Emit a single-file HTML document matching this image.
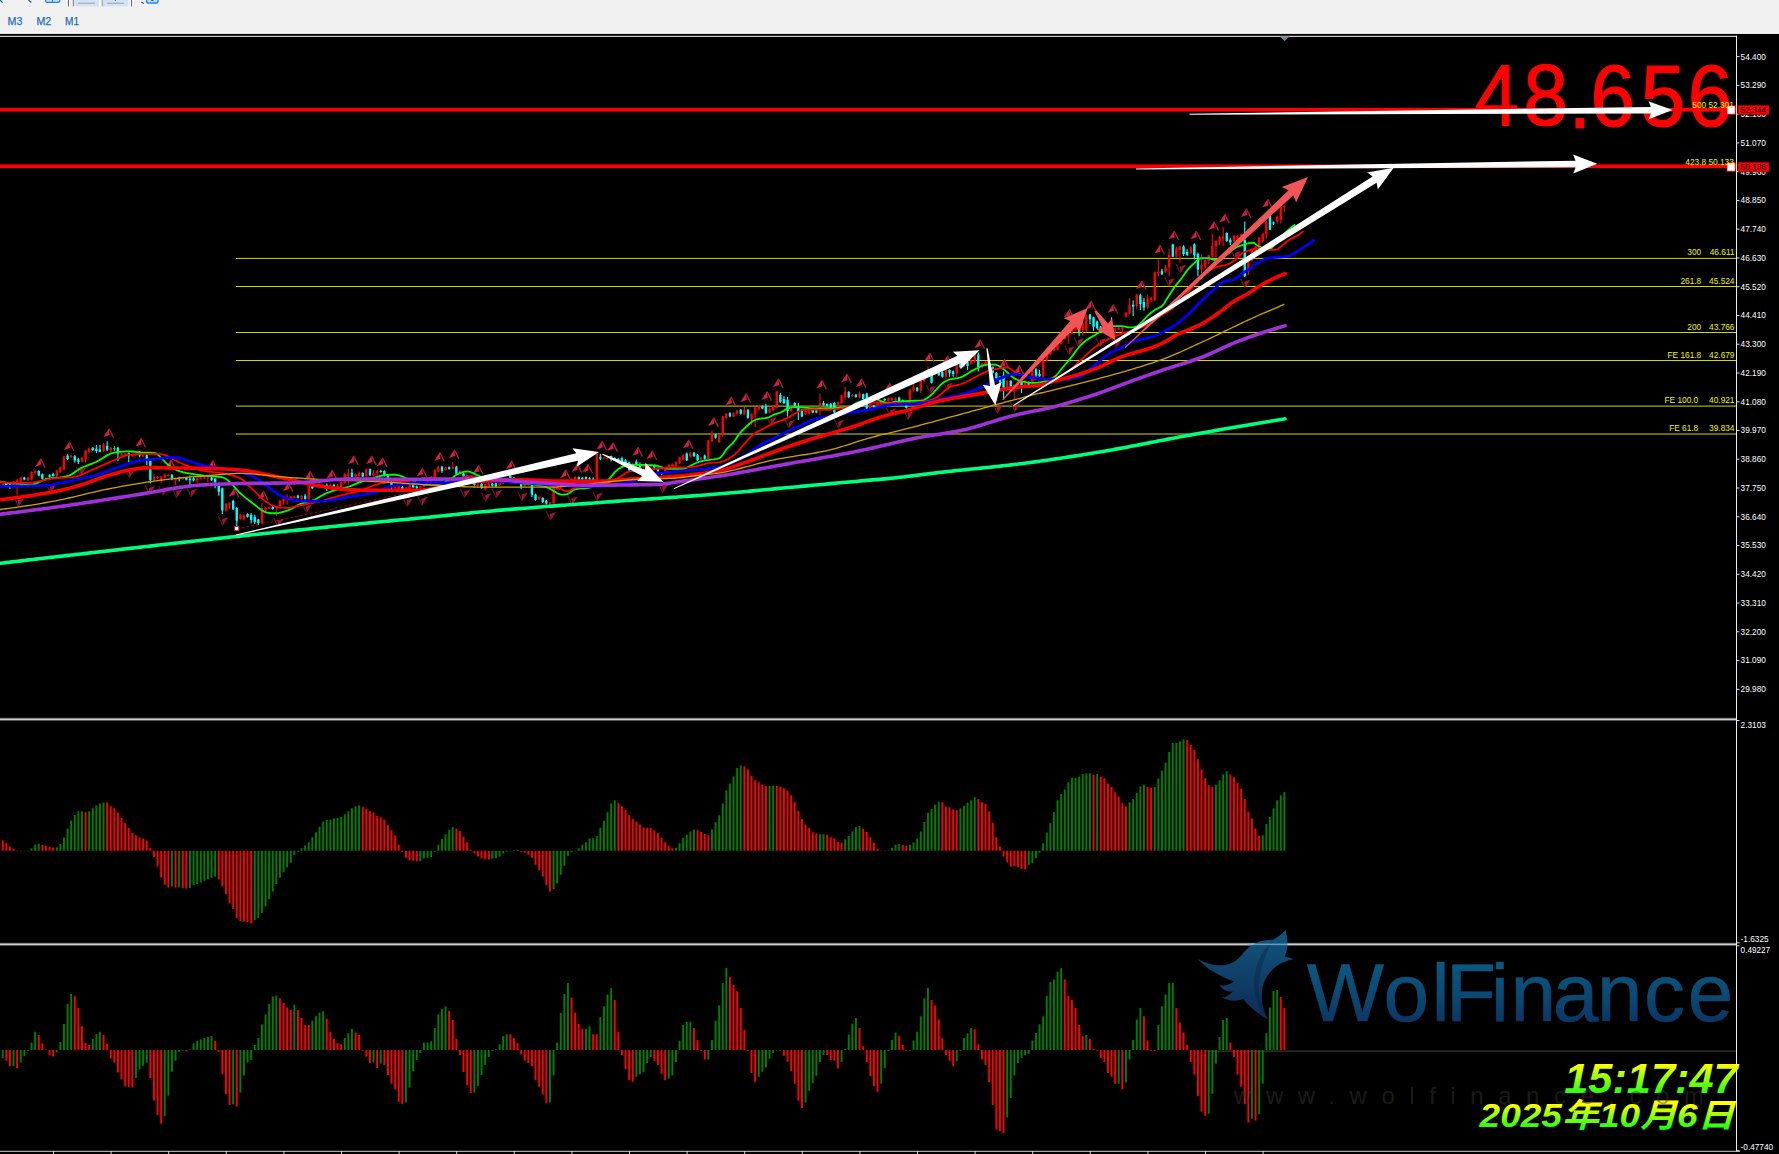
<!DOCTYPE html>
<html lang="zh"><head><meta charset="utf-8"><title>Chart</title>
<style>html,body{margin:0;padding:0;background:#000;}body{width:1779px;height:1154px;overflow:hidden;}svg{display:block;}</style>
</head><body>
<svg width="1779" height="1154" viewBox="0 0 1779 1154"><rect x="-10" y="-10" width="1799" height="1174" fill="#000"/>
<g id="toolbar">
<rect x="-10" y="-10" width="1799" height="43.9" fill="#f0f0f0"/>
<rect x="-10" y="32.7" width="1799" height="1.2" fill="#ffffff"/>
<rect x="73.4" y="0" width="25.7" height="6.3" fill="#d3e3f4"/>
<rect x="102.4" y="0" width="25.7" height="6.3" fill="#d3e3f4"/>
<rect x="99.1" y="0" width="2.4" height="6.3" fill="#fafafa"/>
<rect x="68" y="0" width="1" height="6.3" fill="#6e6e6e"/>
<rect x="72.8" y="0" width="0.9" height="6.3" fill="#7a7a7a"/>
<rect x="101.7" y="0" width="0.9" height="6.3" fill="#8a8a8a"/>
<rect x="131" y="0" width="1" height="6.3" fill="#6e6e6e"/>
<rect x="78" y="2.7" width="17" height="1.2" fill="#a3adb8"/>
<rect x="107" y="2.7" width="17" height="1.2" fill="#a3adb8"/>
<rect x="114.8" y="0" width="1" height="1" fill="#2a5a8c"/>
<path d="M0 0 L2.6 2.6 M28.4 0 L31.4 2.6" stroke="#2f5f8f" stroke-width="1.3" fill="none"/>
<rect x="45.6" y="-3" width="14.2" height="5.4" rx="1.6" fill="#bfe0fb" stroke="#2b7fd0" stroke-width="1.2"/>
<rect x="52" y="0" width="1" height="2" fill="#2b7fd0"/>
<rect x="146.6" y="-3" width="11.4" height="6" rx="1.8" fill="#bfe0fb" stroke="#2b86dc" stroke-width="1.4"/>
<rect x="151" y="0" width="2.6" height="0.9" fill="#1f5fa8"/>
<path d="M141.2 2 L143.8 3.6" stroke="#2f5f8f" stroke-width="1.2"/>
<g font-family="'Liberation Sans',sans-serif" font-size="11" fill="#1f6fb8" stroke="#1f6fb8" stroke-width="0.25">
<text x="7.6" y="25" textLength="14.8" lengthAdjust="spacingAndGlyphs">M3</text>
<text x="36.5" y="25" textLength="14.8" lengthAdjust="spacingAndGlyphs">M2</text>
<text x="65.0" y="25" textLength="14.0" lengthAdjust="spacingAndGlyphs">M1</text>
</g></g>
<rect x="-10" y="33.9" width="1799" height="2" fill="#000"/>
<rect x="-10" y="35.8" width="1747.0" height="1.0" fill="#f6f6f6"/>
<rect x="1736.0" y="35.8" width="1" height="1115.7" fill="#ececec"/>
<rect x="-10" y="717.8" width="1746.0" height="3" fill="#6a6a6a"/>
<rect x="-10" y="718.6999999999999" width="1746.0" height="1.2" fill="#d8d8d8"/>
<rect x="-10" y="942.8" width="1746.0" height="3" fill="#6a6a6a"/>
<rect x="-10" y="943.6999999999999" width="1746.0" height="1.2" fill="#d8d8d8"/>
<rect x="-10" y="1150.8" width="1750.0" height="1" fill="#d0d0d0"/>
<rect x="53" y="1151" width="1" height="3" fill="#d0d0d0"/>
<rect x="110.6" y="1151" width="1" height="3" fill="#d0d0d0"/>
<rect x="168.2" y="1151" width="1" height="3" fill="#d0d0d0"/>
<rect x="225.8" y="1151" width="1" height="3" fill="#d0d0d0"/>
<rect x="283.4" y="1151" width="1" height="3" fill="#d0d0d0"/>
<rect x="341" y="1151" width="1" height="3" fill="#d0d0d0"/>
<rect x="398.6" y="1151" width="1" height="3" fill="#d0d0d0"/>
<rect x="456.2" y="1151" width="1" height="3" fill="#d0d0d0"/>
<rect x="513.8" y="1151" width="1" height="3" fill="#d0d0d0"/>
<rect x="571.4" y="1151" width="1" height="3" fill="#d0d0d0"/>
<rect x="629" y="1151" width="1" height="3" fill="#d0d0d0"/>
<rect x="686.6" y="1151" width="1" height="3" fill="#d0d0d0"/>
<rect x="744.2" y="1151" width="1" height="3" fill="#d0d0d0"/>
<rect x="801.8" y="1151" width="1" height="3" fill="#d0d0d0"/>
<rect x="859.4" y="1151" width="1" height="3" fill="#d0d0d0"/>
<rect x="917" y="1151" width="1" height="3" fill="#d0d0d0"/>
<rect x="974.6" y="1151" width="1" height="3" fill="#d0d0d0"/>
<rect x="1032.2" y="1151" width="1" height="3" fill="#d0d0d0"/>
<rect x="1089.8" y="1151" width="1" height="3" fill="#d0d0d0"/>
<rect x="1147.4" y="1151" width="1" height="3" fill="#d0d0d0"/>
<rect x="1205" y="1151" width="1" height="3" fill="#d0d0d0"/>
<rect x="1262.6" y="1151" width="1" height="3" fill="#d0d0d0"/>
<path d="M1279.6 36.3 H1289.6 L1284.6 41 Z" fill="#76879a"/>
<g id="fib" stroke="#d6d600" stroke-width="1" fill="none">
<path d="M236 258.4 H1736.0"/>
<path d="M236 286.5 H1736.0"/>
<path d="M236 332.5 H1736.0"/>
<path d="M236 360.5 H1736.0"/>
<path d="M236 406.1 H1736.0"/>
<path d="M236 434.0 H1736.0"/>
</g>
<path d="M236.5 529 L598 453 L665 483" stroke="#ff0000" stroke-width="0.8" stroke-dasharray="3 2" fill="none" opacity="0.8"/>
<defs><g id="fu"><path d="M0.4 -5 L-5.2 3.6 L1 1.5 Z" fill="#d81e42"/><path d="M0.4 -4.7 L4.9 4.3" stroke="#a8203f" stroke-width="1.3" fill="none"/></g><g id="fd" opacity="0.85"><path d="M-0.4 5 L5.2 -3.6 L-1 -1.5 Z" fill="#b81a3a"/><path d="M-0.4 4.7 L-4.9 -4.3" stroke="#7a1830" stroke-width="1.2" fill="none"/></g></defs>
<g id="fractals">
<use href="#fu" x="40.2" y="463.3"/>
<use href="#fu" x="69" y="446.4"/>
<use href="#fu" x="108.6" y="433.5"/>
<use href="#fu" x="140.6" y="443"/>
<use href="#fu" x="170.4" y="464.6"/>
<use href="#fu" x="212.3" y="465.3"/>
<use href="#fu" x="233.9" y="493"/>
<use href="#fu" x="263" y="495.7"/>
<use href="#fu" x="288" y="487.6"/>
<use href="#fu" x="309.6" y="476.1"/>
<use href="#fu" x="331.7" y="474.8"/>
<use href="#fu" x="353.3" y="460.6"/>
<use href="#fu" x="371.2" y="460.6"/>
<use href="#fu" x="382" y="462.6"/>
<use href="#fu" x="421.9" y="472.7"/>
<use href="#fu" x="439.4" y="457.2"/>
<use href="#fu" x="454" y="454.5"/>
<use href="#fu" x="478" y="470"/>
<use href="#fu" x="511.1" y="465.6"/>
<use href="#fu" x="565.2" y="474.4"/>
<use href="#fu" x="576.7" y="468.3"/>
<use href="#fu" x="587.5" y="469"/>
<use href="#fu" x="601.7" y="446"/>
<use href="#fu" x="612.5" y="447.3"/>
<use href="#fu" x="637.5" y="452.1"/>
<use href="#fu" x="651.7" y="455.4"/>
<use href="#fu" x="688.2" y="444.6"/>
<use href="#fu" x="713.2" y="422.3"/>
<use href="#fu" x="730.8" y="401.7"/>
<use href="#fu" x="745.7" y="398.3"/>
<use href="#fu" x="766.6" y="396.3"/>
<use href="#fu" x="778.1" y="383.4"/>
<use href="#fu" x="821.4" y="384.8"/>
<use href="#fu" x="846.4" y="378.7"/>
<use href="#fu" x="861" y="383.4"/>
<use href="#fu" x="889" y="388"/>
<use href="#fu" x="929.3" y="357.7"/>
<use href="#fu" x="947.1" y="360.4"/>
<use href="#fu" x="979.6" y="344.4"/>
<use href="#fu" x="1003.9" y="364"/>
<use href="#fu" x="1018.8" y="370.1"/>
<use href="#fu" x="1069" y="314"/>
<use href="#fu" x="1090.5" y="305.8"/>
<use href="#fu" x="1112.8" y="309.2"/>
<use href="#fu" x="1141.2" y="285.5"/>
<use href="#fu" x="1159.5" y="249.9"/>
<use href="#fu" x="1173.7" y="235.7"/>
<use href="#fu" x="1195.7" y="235.7"/>
<use href="#fu" x="1213.6" y="226.3"/>
<use href="#fu" x="1224.4" y="218.8"/>
<use href="#fu" x="1246" y="213.4"/>
<use href="#fu" x="1267.3" y="203.9"/>
<use href="#fd" x="18.9" y="501.8"/>
<use href="#fd" x="51" y="488"/>
<use href="#fd" x="81" y="471"/>
<use href="#fd" x="129.8" y="473"/>
<use href="#fd" x="149.9" y="489.6"/>
<use href="#fd" x="163.6" y="490.3"/>
<use href="#fd" x="177.1" y="493"/>
<use href="#fd" x="191.8" y="492.3"/>
<use href="#fd" x="223.1" y="520.7"/>
<use href="#fd" x="278.5" y="522.1"/>
<use href="#fd" x="306.9" y="507.9"/>
<use href="#fd" x="407.7" y="501.8"/>
<use href="#fd" x="422.5" y="500.4"/>
<use href="#fd" x="465.1" y="493"/>
<use href="#fd" x="486.1" y="496.7"/>
<use href="#fd" x="496.9" y="493.3"/>
<use href="#fd" x="522.6" y="496"/>
<use href="#fd" x="551" y="515.6"/>
<use href="#fd" x="572.6" y="500"/>
<use href="#fd" x="597.6" y="496"/>
<use href="#fd" x="663.2" y="487.9"/>
<use href="#fd" x="771.4" y="420.6"/>
<use href="#fd" x="789.6" y="423.3"/>
<use href="#fd" x="839" y="423.3"/>
<use href="#fd" x="891" y="411.8"/>
<use href="#fd" x="908.6" y="414.5"/>
<use href="#fd" x="931" y="389"/>
<use href="#fd" x="948" y="386"/>
<use href="#fd" x="997.9" y="408.6"/>
<use href="#fd" x="1015.4" y="406.6"/>
<use href="#fd" x="1069.5" y="349.8"/>
<use href="#fd" x="1079" y="341.7"/>
<use href="#fd" x="1100.6" y="341.7"/>
<use href="#fd" x="1116.8" y="343"/>
<use href="#fd" x="1169.6" y="281.5"/>
<use href="#fd" x="1180.9" y="268.2"/>
<use href="#fd" x="1235.9" y="254.6"/>
<use href="#fd" x="1245.4" y="283"/>
</g>
<path d="M2.75 482.74V486.39M13.55 480.71V485.44M17.15 478.82V495.04M20.75 476.65V482.33M27.95 476.65V480.98M31.55 471.24V480.3M35.15 470.03V474.76M45.95 477.33V480.3M56.75 469.89V476.92M60.35 466.51V472.87M63.95 455.69V470.16M71.15 455.02V457.99M81.95 456.78V462.46M85.55 449.75V462.59M89.15 447.58V452.59M103.55 442.99V451.77M110.75 447.04V453.13M121.55 452.99V456.24M125.15 452.99V455.69M132.35 453.67V456.64M135.95 453.26V455.97M143.15 454.34V457.32M153.95 474.08V480.84M157.55 475.98V478.95M161.15 476.11V482.87M164.75 473.41V478.41M168.35 473.95V476.52M175.55 477.46V484.9M182.75 477.33V479.63M197.15 477.87V482.87M200.75 477.06V479.63M204.35 476.65V479.22M207.95 476.79V482.2M225.95 503.02V511.67M229.55 502.21V509.24M240.35 513.83V519.78M243.95 514.51V520.19M261.95 503.15V524.11M265.55 507.07V511.13M269.15 506.4V509.37M276.35 505.86V516M279.95 499.64V507.34M283.55 497.74V504.51M287.15 494.36V504.51M290.75 495.99V498.96M294.35 495.58V498.56M301.55 494.91V499.91M308.75 484.76V499.91M315.95 484.36V487.33M319.55 484.09V487.06M323.15 484.09V487.06M330.35 484.09V487.74M337.55 484.09V488.42M341.15 481.38V487.74M344.75 473.27V483.68M348.35 468.67V484.9M355.55 473.27V477.6M359.15 471.38V476.79M366.35 468.54V477.33M373.55 470.03V476.79M377.15 470.03V477.46M395.15 484.76V488.42M398.75 485.44V489.77M405.95 486.79V490.44M409.55 484.09V490.44M420.35 485.58V490.31M423.95 482.74V487.06M427.55 480.03V485.04M431.15 475.98V482.33M434.75 469.22V478.27M438.35 465.84V472.46M445.55 466.78V470.84M452.75 461.91V469.35M459.95 470.03V474.08M477.95 483.41V486.79M485.15 483.83V490.59M488.75 482.34V487.34M499.55 481.67V485.99M503.15 479.64V483.96M506.75 477.61V481.94M524.75 483.02V486.67M528.35 482.75V485.99M539.15 495.86V500.19M549.95 502.08V508.17M553.55 487.07V504.25M557.15 485.72V490.05M560.75 483.69V488.02M567.95 480.31V485.32M571.55 478.29V482.61M575.15 475.72V480.45M596.75 452.06V480.45M603.95 456.65V459.22M607.55 457.06V459.63M632.75 462.74V468.42M643.55 464.09V468.42M650.75 464.09V467.74M665.15 466.79V474.5M668.75 464.09V468.42M672.35 463.41V467.06M675.95 461.38V467.06M679.55 456.65V464.36M683.15 453.95V460.3M690.35 451.92V457.6M701.15 456.65V460.3M708.35 439.75V459.63M711.95 430.42V441.91M719.15 434.34V442.73M722.75 415.86V436.81M726.35 413.02V418.7M733.55 412.34V417.34M737.15 409.64V414.64M744.35 407.07V415.18M751.55 413.15V424.65M755.15 407.07V427.35M758.75 405.58V410.58M769.55 407.61V413.29M773.15 405.58V411.26M776.75 390.71V408.56M791.15 407.61V411.94M805.55 410.31V415.32M809.15 409.64V413.96M819.95 393.55V415.18M837.95 401.53V409.23M841.55 394.76V403.82M845.15 386.79V399.63M852.35 394.09V397.06M859.55 391.52V398.28M870.35 402.88V409.23M877.55 401.53V407.88M881.15 400.85V405.18M888.35 397.47V401.8M891.95 397.47V401.12M895.55 397.47V401.12M909.95 388.68V401.12M913.55 384.08V391.52M920.75 380.03V393.55M924.35 375.16V382.19M927.95 366.51V377.32M935.15 372.46V375.43M945.95 369.21V378.67M956.75 363.8V376.65M963.95 363.16V367.49M971.15 359.78V364.78M974.75 353.02V362.75M981.95 362.48V368.16M985.55 361.13V365.46M1007.15 380.06V388.44M1014.35 384.25V399.8M1017.95 381.41V387.09M1025.15 380.06V385.74M1032.35 369.92V383.03M1043.15 359.78V377.63M1046.75 353.02V361.4M1050.35 348.96V355.32M1053.95 346.26V351.26M1057.55 342.2V350.58M1061.15 336.79V344.5M1064.75 334.09V339.77M1068.35 332.2V343.69M1071.95 328.68V334.36M1075.55 325.98V330.98M1082.75 322.73V335.58M1086.35 314.62V332.2M1104.35 327.33V333.01M1115.15 327.46V337.6M1118.75 327.06V330.3M1122.35 326.79V333.55M1125.95 311.97V317.65M1129.55 297.91V314.14M1136.75 293.86V308.73M1147.55 294.53V308.73M1151.15 296.56V301.97M1154.75 271.41V300.75M1158.35 259.38V276.28M1165.55 264.79V272.9M1169.15 248.56V276.28M1176.35 246.53V257.35M1179.95 245.86V262.76M1190.75 245.86V253.97M1201.55 253.97V273.57M1205.15 259.38V268.17M1208.75 254.65V264.11M1212.35 233.69V257.35M1215.95 240.45V257.35M1219.55 235.72V245.18M1223.15 226.93V245.86M1233.95 234.91V241.94M1237.55 234.91V240.58M1241.15 233.55V239.23M1248.35 259.38V274.93M1251.95 248.43V261.54M1255.55 245.72V252.75M1259.15 236.93V247.34M1262.75 233.01V242.48M1266.35 220.84V238.42M1277.15 215.44V223.55M1280.75 206.65V223.55M1284.35 205.29V212.06" stroke="#ff0000" stroke-width="1.15" fill="none"/>
<path d="M2.75 483.55V485.58M13.55 481.52V484.63M17.15 480.17V482.2M20.75 477.46V481.52M27.95 477.46V480.17M31.55 472.06V479.49M35.15 471.11V473M45.95 478.14V479.49M56.75 470.7V476.11M60.35 467.32V472.06M63.95 456.51V469.35M71.15 455.83V457.18M81.95 457.59V461.64M85.55 450.42V459.21M89.15 448.39V451.77M103.55 444.34V451.37M110.75 447.72V450.42M121.55 453.8V455.42M125.15 453.8V454.88M132.35 454.48V455.83M135.95 454.07V455.15M143.15 455.15V456.51M153.95 476.79V480.17M157.55 476.79V478.14M161.15 476.79V480.57M164.75 474.76V477.46M168.35 474.76V475.76M175.55 478.14V480.84M182.75 478.14V479.14M197.15 478.41V480.84M200.75 477.87V478.87M204.35 477.46V478.46M207.95 477.46V478.46M225.95 503.83V510.86M229.55 502.75V505.18M240.35 514.65V518.97M243.95 515.32V519.38M261.95 507.89V523.43M265.55 507.89V510.32M269.15 507.21V508.56M276.35 506.53V507.89M279.95 500.45V506.53M283.55 498.42V501.12M287.15 496.8V498.42M290.75 496.8V498.15M294.35 496.39V497.74M301.55 495.72V499.1M308.75 485.58V499.1M315.95 485.17V486.52M319.55 484.9V486.25M323.15 484.9V486.25M330.35 484.9V486.93M337.55 484.9V487.6M341.15 482.2V486.93M344.75 474.08V482.87M348.35 473.41V475.71M355.55 474.08V476.79M359.15 472.73V475.71M366.35 469.35V476.52M373.55 472.73V475.44M377.15 471.11V473.41M395.15 485.58V487.6M398.75 486.25V488.96M405.95 487.6V489.63M409.55 484.9V489.63M420.35 486.25V487.87M423.95 483.55V486.25M427.55 480.84V484.22M431.15 476.79V481.52M434.75 470.03V477.46M438.35 466.65V471.65M445.55 467.59V470.03M452.75 466.65V468.4M459.95 471.11V473.81M477.95 484.22V485.98M485.15 484.51V489.24M488.75 483.15V486.53M499.55 482.48V485.18M503.15 480.45V483.15M506.75 478.42V481.12M524.75 483.83V485.86M528.35 483.56V485.18M539.15 496.67V499.38M549.95 502.49V504.11M553.55 487.89V503.43M557.15 486.53V489.24M560.75 484.51V487.21M567.95 481.12V484.51M571.55 479.1V481.8M575.15 477.07V479.77M596.75 453.41V479.77M603.95 457.46V458.46M607.55 457.87V458.87M632.75 463.55V467.6M643.55 464.9V467.6M650.75 464.9V466.93M665.15 467.6V473.69M668.75 464.9V467.6M672.35 464.22V466.25M675.95 462.2V466.25M679.55 457.46V463.55M683.15 454.76V459.49M690.35 452.73V456.79M701.15 457.46V459.49M708.35 440.56V458.82M711.95 433.8V441.24M719.15 435.15V441.91M722.75 416.53V434.11M726.35 413.83V417.89M733.55 413.15V416.53M737.15 410.45V413.83M744.35 409.77V414.51M751.55 413.83V419.24M755.15 407.74V414.51M758.75 406.39V409.77M769.55 408.42V412.48M773.15 406.39V410.45M776.75 391.52V407.74M791.15 408.42V411.12M805.55 411.12V414.51M809.15 410.45V413.15M819.95 403.01V407.74M837.95 402.34V408.42M841.55 395.58V403.01M845.15 391.52V396.93M852.35 394.9V396.25M859.55 393.55V397.6M870.35 403.69V408.42M877.55 402.34V407.07M881.15 401.66V404.36M888.35 398.28V400.98M891.95 398.28V400.31M895.55 398.28V400.31M909.95 389.49V400.31M913.55 387.46V390.17M920.75 380.7V390.84M924.35 375.97V381.38M927.95 373.27V376.65M935.15 373.27V374.62M945.95 369.89V376.65M956.75 364.48V373.27M963.95 363.97V366.67M971.15 360.59V363.97M974.75 353.83V361.94M981.95 363.29V367.35M985.55 361.94V364.65M1007.15 380.87V387.63M1014.35 384.93V391.69M1017.95 382.22V386.28M1025.15 380.87V384.93M1032.35 370.73V382.22M1043.15 360.59V376.81M1046.75 353.83V360.59M1050.35 349.77V354.51M1053.95 347.07V350.45M1057.55 343.01V349.77M1061.15 337.6V343.69M1064.75 334.9V338.96M1068.35 332.87V336.25M1071.95 329.49V333.55M1075.55 326.79V330.17M1082.75 323.41V330.17M1086.35 315.29V330.17M1104.35 328.14V332.2M1115.15 328.14V330.17M1118.75 327.87V329.49M1122.35 327.46V329.49M1125.95 312.79V316.84M1129.55 305.35V313.46M1136.75 294.53V306.02M1147.55 298.59V307.38M1151.15 297.91V299.94M1154.75 272.22V299.94M1158.35 271.55V273.57M1165.55 267.49V272.22M1169.15 254.65V267.49M1176.35 248.56V256.67M1179.95 246.53V249.91M1190.75 247.21V253.29M1201.55 264.79V269.52M1205.15 260.05V266.81M1208.75 255.32V260.73M1212.35 245.86V256.67M1215.95 241.12V246.53M1219.55 237.07V241.8M1223.15 236.39V238.42M1233.95 235.72V241.12M1237.55 235.72V239.77M1241.15 234.36V238.42M1248.35 260.05V272.22M1251.95 249.24V260.73M1255.55 246.53V251.94M1259.15 237.74V246.53M1262.75 233.69V241.12M1266.35 221.52V234.36M1277.15 216.79V221.52M1280.75 207.32V219.49M1284.35 205.97V207.32" stroke="#ff0000" stroke-width="2.4" fill="none"/>
<path d="M6.35 482.06V485.71M9.95 483.55V488.96M24.35 476.65V480.3M38.75 470.3V476.25M42.35 473.54V479.63M49.55 474.35V477.6M53.15 472.73V476.79M67.55 453.8V459.89M74.75 455.15V462.59M78.35 457.86V463.94M92.75 446.91V450.83M96.35 445.01V453.13M99.95 445.01V452.45M107.15 441.36V451.1M117.95 447.04V461.24M128.75 452.45V462.59M139.55 451.1V457.18M146.75 454.48V465.29M150.35 459.89V483.55M171.95 474.08V480.17M179.15 476.79V481.52M186.35 477.06V480.57M189.95 475.44V484.9M193.55 477.33V481.38M211.55 476.65V480.98M215.15 478.14V488.28M218.75 484.9V495.72M222.35 487.6V513.97M233.15 499.77V509.91M236.75 507.21V526.81M247.55 513.16V517.49M251.15 513.29V523.43M254.75 514.65V524.11M258.35 518.7V524.79M272.75 505.72V509.78M297.95 494.63V498.56M305.15 493.69V499.77M312.35 485.44V489.09M326.75 483.55V490.98M333.95 483.82V487.33M351.95 468.67V477.46M362.75 472.19V477.33M369.95 468.54V475.98M380.75 469.89V472.87M384.35 470.3V476.52M387.95 474.62V482.33M391.55 480.84V492.34M402.35 486.12V490.04M413.15 484.36V488.14M416.75 485.44V489.09M441.95 465.97V472.73M449.15 466.51V469.76M456.35 465.84V474.62M463.55 472.6V477.33M467.15 475.16V480.84M470.75 478.68V483.82M474.35 481.38V485.85M481.55 483.02V488.7M492.35 483.02V486.67M495.95 482.34V487.34M510.35 475.04V479.77M513.95 476.93V481.26M517.55 478.96V483.96M521.15 482.48V489.24M531.95 483.15V497.35M535.55 493.83V500.87M542.75 497.21V502.89M546.35 499.92V504.25M564.35 481.67V485.99M578.75 476.53V479.91M582.35 476.93V479.91M585.95 476.39V479.77M589.55 477.34V480.31M593.15 477.61V480.58M600.35 454.08V460.17M611.15 455.44V461.52M614.75 457.33V460.98M618.35 458V461.65M621.95 456.79V462.87M625.55 459.36V464.36M629.15 461.38V471.12M636.35 459.49V466.25M639.95 462.2V468.28M647.15 464.76V469.09M654.35 464.22V468.96M657.95 467.47V471.8M661.55 472.2V475.18M686.75 452.6V460.98M693.95 451.92V456.92M697.55 453.95V460.98M704.75 454.62V459.63M715.55 433.67V438.67M729.95 412.34V417.34M740.75 408.96V414.64M747.95 408.96V418.7M762.35 405.58V409.23M765.95 403.69V413.83M780.35 392.87V403.01M783.95 396.25V404.36M787.55 396.93V416.53M794.75 402.2V406.53M798.35 403.01V419.91M801.95 408.96V417.34M812.75 408.96V413.29M816.35 409.64V413.29M823.55 400.98V405.72M827.15 403.28V406.53M830.75 402.88V409.23M834.35 402.2V413.29M848.75 391.11V398.14M855.95 393.82V397.74M863.15 393.41V399.77M866.75 392.74V409.23M873.95 404.91V408.56M884.75 398.14V401.12M899.15 396.79V401.8M902.75 399.5V403.82M906.35 402.2V408.56M917.15 387.06V391.65M931.55 373.81V383.54M938.75 371.1V376.11M942.35 371.1V377.46M949.55 369.21V376.65M953.15 370.56V376.65M960.35 362.48V368.16M967.55 361.27V370.05M978.35 352.48V371.41M989.15 363.83V369.51M992.75 366.54V373.57M996.35 371.95V378.98M999.95 376V383.03M1003.55 371.41V399.8M1010.75 380.19V391.69M1021.55 380.87V393.04M1028.75 381.41V385.74M1035.95 368.03V376.81M1039.55 370.05V376.81M1079.15 325.44V336.25M1089.95 313.94V324.08M1093.55 316.65V330.84M1097.15 320.57V328.95M1100.75 325.98V331.65M1107.95 326.65V332.33M1111.55 317.32V330.17M1133.15 300.62V316.03M1140.35 293.86V310.08M1143.95 297.91V310.76M1161.95 268.84V274.93M1172.75 243.83V257.35M1183.55 245.18V256M1187.15 249.24V256M1194.35 243.15V259.38M1197.95 252.62V276.28M1226.75 232.34V241.8M1230.35 237.74V245.18M1244.75 221.52V276.96M1269.95 215.44V230.31M1273.55 221.52V224.9" stroke="#00ffff" stroke-width="1.15" fill="none"/>
<path d="M6.35 482.87V484.9M9.95 484.22V486.25M24.35 477.46V479.49M38.75 471.11V475.44M42.35 474.35V478.82M49.55 475.16V476.79M53.15 474.08V476.11M67.55 455.83V458.94M74.75 456.24V460.56M78.35 459.21V461.91M92.75 447.72V450.02M96.35 448.66V451.1M99.95 449.48V451.77M107.15 445.69V449.75M117.95 447.72V453.13M128.75 453.13V456.24M139.55 451.77V455.42M146.75 455.15V459.21M150.35 460.56V480.17M171.95 474.76V478.14M179.15 477.87V478.87M186.35 477.87V479.76M189.95 478.82V480.17M193.55 478.14V480.57M211.55 477.46V480.17M215.15 478.82V482.47M218.75 485.58V491.66M222.35 488.28V510.59M233.15 501.12V509.24M236.75 507.89V520.73M247.55 513.97V516.67M251.15 514.65V520.05M254.75 516.67V522.08M258.35 519.38V523.03M272.75 506.53V508.97M297.95 495.45V497.74M305.15 495.72V499.1M312.35 486.25V488.28M326.75 484.63V486.93M333.95 484.63V486.52M351.95 472.73V476.79M362.75 473V476.52M369.95 469.35V475.16M380.75 470.7V472.06M384.35 471.11V475.71M387.95 475.44V481.52M391.55 481.52V485.17M402.35 486.93V489.23M413.15 485.17V487.33M416.75 486.25V488.28M441.95 466.65V471.11M449.15 467.32V468.95M456.35 466.65V473.81M463.55 473.41V476.52M467.15 475.98V480.03M470.75 479.49V483.01M474.35 482.2V485.04M481.55 483.83V487.89M492.35 483.83V485.86M495.95 483.15V486.53M510.35 475.72V478.42M513.95 477.74V480.45M517.55 479.77V483.15M521.15 483.15V486.53M531.95 483.83V494.65M535.55 494.65V500.05M542.75 498.03V502.08M546.35 500.73V503.43M564.35 482.48V485.18M578.75 477.34V479.1M582.35 477.74V479.1M585.95 477.07V479.1M589.55 478.15V479.5M593.15 478.42V479.77M600.35 456.79V458.82M611.15 456.11V459.49M614.75 458.14V460.17M618.35 458.82V460.84M621.95 458.14V462.2M625.55 460.17V463.55M629.15 462.2V470.31M636.35 461.52V464.9M639.95 464.22V467.6M647.15 465.58V468.28M654.35 464.9V467.6M657.95 468.28V470.98M661.55 473.01V474.36M686.75 453.41V460.17M693.95 452.73V456.11M697.55 454.76V460.17M704.75 455.44V458.82M715.55 434.48V437.86M729.95 413.15V416.53M740.75 409.77V413.83M747.95 409.77V417.89M762.35 406.39V408.42M765.95 406.39V413.15M780.35 394.9V401.66M783.95 398.96V403.01M787.55 399.63V411.12M794.75 403.01V405.72M798.35 406.39V411.12M801.95 409.77V416.53M812.75 409.77V412.48M816.35 410.45V412.48M823.55 403.01V405.04M827.15 404.09V405.72M830.75 403.69V408.42M834.35 403.01V412.48M848.75 391.93V397.33M855.95 394.63V396.93M863.15 394.22V398.96M866.75 393.55V408.42M873.95 405.72V407.74M884.75 398.96V400.31M899.15 397.6V400.98M902.75 400.31V403.01M906.35 403.01V407.74M917.15 387.87V390.84M931.55 374.62V382.73M938.75 371.91V375.29M942.35 371.91V376.65M949.55 369.89V373.27M953.15 371.24V373.94M960.35 363.29V367.35M967.55 361.94V366M978.35 354.51V366.67M989.15 364.65V368.7M992.75 367.35V372.76M996.35 372.76V378.17M999.95 376.81V382.22M1003.55 375.46V387.63M1010.75 380.87V386.96M1021.55 381.55V386.28M1028.75 382.22V384.93M1035.95 369.38V375.46M1039.55 374.11V376.14M1079.15 326.11V332.2M1089.95 314.62V319.35M1093.55 317.32V326.79M1097.15 321.38V328.14M1100.75 326.79V330.84M1107.95 327.46V331.52M1111.55 326.79V329.49M1133.15 304.67V306.7M1140.35 295.21V304M1143.95 301.97V307.38M1161.95 270.87V274.25M1172.75 244.51V256.67M1183.55 246.53V253.97M1187.15 251.94V254.65M1194.35 244.51V255.32M1197.95 253.97V269.52M1226.75 233.01V241.12M1230.35 239.77V242.48M1244.75 239.77V276.28M1269.95 216.11V229.63M1273.55 222.47V223.55" stroke="#00ffff" stroke-width="2.4" fill="none"/>
<path d="M114.35 445.96V450.83" stroke="#00ff00" stroke-width="1.15" fill="none"/>
<path d="M114.35 448.12V449.12" stroke="#00ff00" stroke-width="2.4" fill="none"/>
<g id="mas" fill="none" stroke-linejoin="round" stroke-linecap="round">
<path d="M0 481.52 L3 482.07 L6 482.58 L9 483.03 L12 483.4 L15 483.68 L18 483.94 L21 484.19 L24 484.39 L27 484.55 L30 484.62 L33 484.45 L36 483.56 L39 482.23 L42 480.76 L45 479.48 L48 478.69 L51 478.22 L54 477.87 L57 477.58 L60 477.29 L63 476.93 L66 476.45 L69 475.68 L72 474.1 L75 472.02 L78 469.86 L81 468.06 L84 466.73 L87 465.56 L90 464.45 L93 463.29 L96 461.95 L99 460.3 L102 458.46 L105 456.61 L108 454.9 L111 453.51 L114 452.6 L117 452.19 L120 451.85 L123 451.58 L126 451.41 L129 451.37 L132 451.51 L135 451.78 L138 452.1 L141 452.38 L144 452.55 L147 452.66 L150 452.76 L153 452.91 L156 453.24 L159 455.63 L162 458.98 L165 461.91 L168 464.84 L171 467.03 L174 468.71 L177 470.14 L180 471.31 L183 472.17 L186 472.86 L189 473.45 L192 473.96 L195 474.41 L198 474.82 L201 475.21 L204 475.57 L207 475.85 L210 476.06 L213 476.26 L216 476.49 L219 476.81 L222 477.26 L225 478.25 L228 480.58 L231 483.23 L234 486.43 L237 489.89 L240 493.02 L243 495.68 L246 498.16 L249 500.5 L252 502.73 L255 504.94 L258 507.38 L261 509.74 L264 511.61 L267 512.61 L270 512.99 L273 513.23 L276 513.27 L279 512.91 L282 512.2 L285 511.31 L288 510.37 L291 509.04 L294 507.37 L297 505.66 L300 504.17 L303 503.1 L306 502.26 L309 501.48 L312 500.62 L315 499.5 L318 497.83 L321 495.92 L324 494.29 L327 493 L330 491.85 L333 490.82 L336 489.92 L339 489.17 L342 488.5 L345 487.8 L348 486.98 L351 485.93 L354 484.69 L357 483.38 L360 482.14 L363 481.07 L366 480.08 L369 479.15 L372 478.29 L375 477.51 L378 476.74 L381 475.95 L384 475.26 L387 474.83 L390 474.76 L393 474.76 L396 474.77 L399 475.31 L402 476.43 L405 477.8 L408 479.11 L411 480.25 L414 481.54 L417 482.8 L420 483.78 L423 484.26 L426 484.5 L429 484.69 L432 484.83 L435 484.89 L438 484.72 L441 483.83 L444 482.45 L447 480.85 L450 479.27 L453 477.26 L456 475.05 L459 473.42 L462 472.37 L465 471.58 L468 471.43 L471 472.21 L474 473.59 L477 475.09 L480 476.25 L483 477.05 L486 477.79 L489 478.48 L492 479.12 L495 479.72 L498 480.28 L501 480.81 L504 481.31 L507 481.79 L510 482.23 L513 482.6 L516 482.92 L519 483.21 L522 483.47 L525 483.74 L528 484.01 L531 484.32 L534 484.66 L537 485.07 L540 485.55 L543 486.12 L546 486.86 L549 488.31 L552 490.05 L555 491.77 L558 493.67 L561 494.64 L564 494.51 L567 494.12 L570 492.78 L573 490.07 L576 489.01 L579 488.67 L582 488.46 L585 488.25 L588 487.91 L591 487.35 L594 486.58 L597 485.6 L600 484.39 L603 482.96 L606 481.3 L609 479.35 L612 475.67 L615 471.85 L618 469.34 L621 467.39 L624 466.07 L627 465.09 L630 464.9 L633 464.9 L636 464.9 L639 464.9 L642 464.9 L645 464.94 L648 465.05 L651 465.22 L654 465.43 L657 465.74 L660 466.53 L663 467.57 L666 468.5 L669 468.95 L672 468.96 L675 468.96 L678 468.96 L681 468.96 L684 468.81 L687 467.57 L690 466.06 L693 464.48 L696 463 L699 461.95 L702 461.1 L705 460.47 L708 460.04 L711 459.7 L714 459.33 L717 458.79 L720 457.95 L723 454.75 L726 449.96 L729 446.69 L732 443.86 L735 440.3 L738 435.84 L741 431.94 L744 428.81 L747 426.03 L750 423.28 L753 421 L756 419.72 L759 418.85 L762 418.39 L765 418.16 L768 417.72 L771 416.19 L774 414.54 L777 413.63 L780 412.79 L783 411.24 L786 409.16 L789 408.01 L792 407.29 L795 407.07 L798 407.17 L801 407.33 L804 407.56 L807 407.87 L810 408.18 L813 408.39 L816 408.42 L819 408.38 L822 408.31 L825 408.23 L828 408.15 L831 408.08 L834 408 L837 407.91 L840 407.81 L843 407.69 L846 407.54 L849 407.24 L852 405.7 L855 403.79 L858 402.42 L861 401.27 L864 400.48 L867 399.89 L870 399.46 L873 399.09 L876 398.99 L879 400.15 L882 401.59 L885 402.41 L888 402.97 L891 402.77 L894 401.97 L897 401.56 L900 401.38 L903 401.24 L906 401.13 L909 401 L912 400.87 L915 400.77 L918 400.65 L921 400.47 L924 400.02 L927 398.25 L930 395.92 L933 393.03 L936 389.83 L939 386.61 L942 383.57 L945 381.53 L948 379.99 L951 379.07 L954 378.56 L957 378.14 L960 377.54 L963 376.36 L966 374.63 L969 372.67 L972 370.83 L975 369.33 L978 367.74 L981 366.23 L984 365.1 L987 364.65 L990 364.65 L993 364.65 L996 364.72 L999 365.96 L1002 368.1 L1005 370.33 L1008 372.95 L1011 375.83 L1014 378.12 L1017 379.71 L1020 380.97 L1023 381.69 L1026 382.19 L1029 382.58 L1032 382.83 L1035 382.89 L1038 382.64 L1041 382.13 L1044 381.51 L1047 380.66 L1050 379.42 L1053 377.83 L1056 375.72 L1059 372.22 L1062 368.27 L1065 364.77 L1068 361.33 L1071 357.72 L1074 353.63 L1077 349.47 L1080 345.98 L1083 343.01 L1086 340.45 L1089 338.39 L1092 336.72 L1095 335.03 L1098 333.03 L1101 330.94 L1104 329.09 L1107 327.36 L1110 326.58 L1113 326.22 L1116 326.11 L1119 326.11 L1122 326.11 L1125 326.6 L1128 327.38 L1131 327.4 L1134 327.07 L1137 326.34 L1140 323.9 L1143 320.92 L1146 317.51 L1149 314.44 L1152 311.98 L1155 309.87 L1158 308.24 L1161 306.82 L1164 303.76 L1167 298.72 L1170 293.97 L1173 289.34 L1176 285.14 L1179 281.57 L1182 277.8 L1185 273.41 L1188 269.39 L1191 266.12 L1194 263.3 L1197 260.61 L1200 258.36 L1203 258.03 L1206 258.03 L1209 258.11 L1212 259.24 L1215 260.05 L1218 259.25 L1221 257.69 L1224 256.13 L1227 254.27 L1230 252.08 L1233 249.44 L1236 247.48 L1239 246.22 L1242 245.17 L1245 244.16 L1248 243.32 L1251 242.66 L1254 242.91 L1257 245.27 L1260 246.96 L1263 248.1 L1266 248.89 L1269 249.24 L1272 247.71 L1275 244.6 L1278 241.34 L1281 237.52 L1284 234.13 L1287 231.05 L1290 228.36 L1293 226.05 L1294.7 224.9" stroke="#00ff00" stroke-width="1.8"/>
<path d="M0 482.2 L3 482.4 L6 482.55 L9 482.67 L12 482.76 L15 482.81 L18 482.85 L21 482.86 L24 482.87 L27 482.87 L30 482.75 L33 482.43 L36 481.94 L39 481.34 L42 480.68 L45 480.01 L48 479.37 L51 478.83 L54 478.42 L57 478.14 L60 477.92 L63 477.74 L66 477.56 L69 477.34 L72 477.07 L75 476.69 L78 475.99 L81 474.96 L84 473.68 L87 472.26 L90 470.8 L93 469.39 L96 468.11 L99 466.81 L102 465.48 L105 464.14 L108 462.81 L111 461.51 L114 460.26 L117 459.01 L120 457.63 L123 456.34 L126 455.33 L129 454.83 L132 454.56 L135 454.32 L138 454.13 L141 453.97 L144 453.87 L147 453.81 L150 453.81 L153 453.88 L156 454.02 L159 454.21 L162 454.46 L165 455.09 L168 456.38 L171 458.02 L174 459.69 L177 461.12 L180 462.55 L183 463.98 L186 465.34 L189 466.54 L192 467.61 L195 468.63 L198 469.55 L201 470.32 L204 470.92 L207 471.38 L210 471.75 L213 472.08 L216 472.4 L219 472.77 L222 473.22 L225 473.77 L228 474.38 L231 475.1 L234 475.94 L237 476.94 L240 478.14 L243 480 L246 482.68 L249 485.77 L252 488.87 L255 491.69 L258 494.66 L261 497.63 L264 500.32 L267 502.45 L270 504.18 L273 505.72 L276 506.84 L279 507.34 L282 507.64 L285 507.84 L288 507.87 L291 507.54 L294 506.89 L297 506.11 L300 505.36 L303 504.76 L306 504.19 L309 503.63 L312 503.07 L315 502.48 L318 501.85 L321 501.16 L324 500.35 L327 499.43 L330 498.47 L333 497.54 L336 496.71 L339 495.93 L342 495.2 L345 494.47 L348 493.73 L351 493.01 L354 492.31 L357 491.6 L360 490.8 L363 489.87 L366 488.64 L369 487.28 L372 485.99 L375 484.96 L378 484.17 L381 483.45 L384 482.83 L387 482.37 L390 482.1 L393 481.88 L396 481.7 L399 481.57 L402 481.52 L405 481.64 L408 481.95 L411 482.35 L414 482.72 L417 482.96 L420 483.16 L423 483.35 L426 483.49 L429 483.55 L432 483.55 L435 483.55 L438 483.55 L441 483.55 L444 483.49 L447 482.87 L450 481.82 L453 480.63 L456 479.59 L459 478.68 L462 477.69 L465 476.8 L468 476.22 L471 476.16 L474 476.65 L477 477.37 L480 477.94 L483 478.3 L486 478.61 L489 478.9 L492 479.15 L495 479.38 L498 479.6 L501 479.8 L504 479.99 L507 480.18 L510 480.36 L513 480.56 L516 480.76 L519 480.98 L522 481.22 L525 481.48 L528 481.77 L531 482.1 L534 482.47 L537 482.9 L540 483.43 L543 484.04 L546 484.72 L549 485.45 L552 486.22 L555 487.02 L558 487.99 L561 489.29 L564 490.52 L567 491.22 L570 490.56 L573 488.56 L576 487.67 L579 487.32 L582 487.08 L585 486.86 L588 486.55 L591 486.14 L594 485.69 L597 485.17 L600 484.58 L603 483.92 L606 483.16 L609 482.31 L612 481.13 L615 479.64 L618 477.97 L621 476.26 L624 474.37 L627 472.32 L630 471.44 L633 471.06 L636 470.8 L639 470.58 L642 470.33 L645 470.03 L648 469.73 L651 469.43 L654 469.13 L657 468.82 L660 468.44 L663 468.05 L666 467.74 L669 467.61 L672 467.6 L675 467.6 L678 467.6 L681 467.6 L684 467.59 L687 467.42 L690 467.12 L693 466.73 L696 466.3 L699 465.71 L702 464.84 L705 463.91 L708 463.16 L711 462.77 L714 462.59 L717 462.45 L720 462.2 L723 461.43 L726 460.15 L729 458.59 L732 456.52 L735 454.09 L738 451.34 L741 447.96 L744 444.34 L747 440.91 L750 437.68 L753 434.75 L756 432.62 L759 430.9 L762 429.27 L765 427.68 L768 426.16 L771 424.71 L774 423.33 L777 422.09 L780 420.98 L783 419.86 L786 418.63 L789 417.12 L792 415.21 L795 413.5 L798 411.84 L801 410.41 L804 409.76 L807 409.64 L810 409.55 L813 409.51 L816 409.51 L819 409.57 L822 409.66 L825 409.74 L828 409.77 L831 409.68 L834 409.43 L837 409.06 L840 408.65 L843 408.23 L846 407.69 L849 407.06 L852 406.4 L855 405.76 L858 405.11 L861 404.42 L864 403.76 L867 403.23 L870 402.88 L873 402.59 L876 402.39 L879 402.48 L882 403.67 L885 403.62 L888 403.43 L891 403.21 L894 403.04 L897 403.01 L900 403.01 L903 403.01 L906 403.01 L909 403.01 L912 402.94 L915 402.7 L918 402.35 L921 401.93 L924 401.47 L927 400.85 L930 400.03 L933 399 L936 397.76 L939 395.8 L942 393.12 L945 390.5 L948 387.85 L951 386.41 L954 385.73 L957 385.2 L960 384.5 L963 383.41 L966 382.03 L969 380.49 L972 378.92 L975 377.42 L978 375.79 L981 374.14 L984 372.62 L987 371.42 L990 370.5 L993 369.72 L996 369.06 L999 368.49 L1002 367.92 L1005 367.48 L1008 367.43 L1011 369.2 L1014 371.36 L1017 372.8 L1020 374.14 L1023 375.33 L1026 376.35 L1029 377.19 L1032 378.02 L1035 378.76 L1038 379.3 L1041 379.52 L1044 379.44 L1047 379.22 L1050 378.87 L1053 378.43 L1056 377.87 L1059 376.79 L1062 375.26 L1065 373.44 L1068 371.51 L1071 369.31 L1074 366.64 L1077 363.73 L1080 360.8 L1083 358.04 L1086 355.19 L1089 352.33 L1092 349.62 L1095 347.22 L1098 345.13 L1101 343.2 L1104 341.42 L1107 339.81 L1110 338.36 L1113 337.04 L1116 335.82 L1119 334.69 L1122 333.63 L1125 332.67 L1128 331.8 L1131 330.96 L1134 330.07 L1137 329.07 L1140 328.02 L1143 326.9 L1146 325.65 L1149 324.23 L1152 322.43 L1155 320.2 L1158 317.82 L1161 315.6 L1164 313.77 L1167 312.14 L1170 310.27 L1173 307.96 L1176 305.33 L1179 302.34 L1182 299.08 L1185 295.7 L1188 292.38 L1191 288.99 L1194 285.49 L1197 282.08 L1200 278.94 L1203 276.2 L1206 273.52 L1209 271.03 L1212 268.94 L1215 267.46 L1218 266.56 L1221 265.92 L1224 265.34 L1227 264.59 L1230 263.43 L1233 261.64 L1236 259.38 L1239 256.04 L1242 253.28 L1245 251.88 L1248 250.84 L1251 249.79 L1254 248.86 L1257 248.34 L1260 247.99 L1263 247.95 L1266 249.07 L1269 249.91 L1272 249.91 L1275 249.91 L1278 249.08 L1281 246.48 L1284 244.01 L1287 241.45 L1290 239.36 L1293 237.91 L1296 236.42 L1299 234.51 L1302 232.3 L1302.81 231.66" stroke="#ff0000" stroke-width="1.8"/>
<path d="M0 486.25 L3 486.25 L6 486.24 L9 486.22 L12 486.19 L15 486.16 L18 486.12 L21 486.08 L24 486.03 L27 485.98 L30 485.92 L33 485.84 L36 485.75 L39 485.62 L42 485.48 L45 485.32 L48 485.12 L51 484.8 L54 484.34 L57 483.78 L60 483.15 L63 482.49 L66 481.85 L69 481.24 L72 480.64 L75 480.03 L78 479.4 L81 478.76 L84 478.09 L87 477.39 L90 476.65 L93 475.88 L96 475.05 L99 474.12 L102 473.1 L105 472.01 L108 470.89 L111 469.75 L114 468.62 L117 467.53 L120 466.51 L123 465.56 L126 464.57 L129 463.57 L132 462.6 L135 461.72 L138 460.97 L141 460.42 L144 460.08 L147 459.83 L150 459.63 L153 459.42 L156 459.16 L159 458.75 L162 458.28 L165 457.85 L168 457.61 L171 457.59 L174 457.59 L177 457.64 L180 458.18 L183 459.09 L186 460.16 L189 461.15 L192 462.05 L195 463.01 L198 463.96 L201 464.84 L204 465.57 L207 466.2 L210 466.77 L213 467.29 L216 467.78 L219 468.24 L222 468.69 L225 469.15 L228 469.63 L231 470.15 L234 470.71 L237 471.35 L240 472.06 L243 472.87 L246 473.8 L249 474.87 L252 476.1 L255 477.55 L258 479.46 L261 481.67 L264 484 L267 486.22 L270 488.44 L273 490.77 L276 492.99 L279 494.91 L282 496.39 L285 497.74 L288 498.95 L291 499.89 L294 500.44 L297 500.73 L300 500.96 L303 501.1 L306 501.12 L309 501.12 L312 501.12 L315 501.12 L318 501.12 L321 501.12 L324 501.03 L327 500.77 L330 500.41 L333 500 L336 499.57 L339 499.02 L342 498.38 L345 497.72 L348 497.1 L351 496.56 L354 496.08 L357 495.63 L360 495.18 L363 494.73 L366 494.24 L369 493.7 L372 493.09 L375 492.39 L378 491.41 L381 490.11 L384 488.71 L387 487.47 L390 486.6 L393 485.88 L396 485.25 L399 484.71 L402 484.26 L405 483.85 L408 483.45 L411 483.11 L414 482.91 L417 482.87 L420 482.87 L423 482.87 L426 482.87 L429 482.87 L432 482.87 L435 482.87 L438 482.87 L441 482.87 L444 482.87 L447 482.8 L450 482.67 L453 482.49 L456 482.27 L459 482.03 L462 481.78 L465 481.53 L468 481.29 L471 481.09 L474 480.93 L477 480.82 L480 480.78 L483 480.8 L486 480.86 L489 480.94 L492 481.06 L495 481.19 L498 481.35 L501 481.52 L504 481.71 L507 481.9 L510 482.09 L513 482.29 L516 482.48 L519 482.66 L522 482.83 L525 483.02 L528 483.22 L531 483.43 L534 483.65 L537 483.88 L540 484.1 L543 484.33 L546 484.55 L549 484.76 L552 484.96 L555 485.14 L558 485.3 L561 485.45 L564 485.58 L567 485.71 L570 485.84 L573 485.97 L576 486.1 L579 486.21 L582 486.31 L585 486.4 L588 486.46 L591 486.51 L594 486.53 L597 486.51 L600 486.39 L603 486.18 L606 485.88 L609 485.52 L612 485.09 L615 484.61 L618 484.08 L621 483.51 L624 482.92 L627 482.32 L630 481.7 L633 481.08 L636 480.3 L639 479.3 L642 478.16 L645 476.98 L648 475.84 L651 474.82 L654 474.02 L657 473.5 L660 473.1 L663 472.76 L666 472.46 L669 472.2 L672 471.95 L675 471.7 L678 471.45 L681 471.17 L684 470.86 L687 470.56 L690 470.28 L693 470.02 L696 469.75 L699 469.48 L702 469.19 L705 468.88 L708 468.54 L711 468.17 L714 467.75 L717 467.28 L720 466.74 L723 466.04 L726 465.09 L729 463.93 L732 462.58 L735 461.09 L738 459.5 L741 457.83 L744 456.12 L747 454.42 L750 452.5 L753 450.3 L756 448.02 L759 445.9 L762 444.11 L765 442.54 L768 441.08 L771 439.66 L774 438.21 L777 436.7 L780 435.17 L783 433.66 L786 432.18 L789 430.75 L792 429.38 L795 428.04 L798 426.71 L801 425.38 L804 423.94 L807 422.43 L810 420.98 L813 419.76 L816 418.88 L819 418.21 L822 417.65 L825 417.12 L828 416.57 L831 415.95 L834 415.33 L837 414.71 L840 414.13 L843 413.61 L846 413.14 L849 412.7 L852 412.27 L855 411.83 L858 411.4 L861 410.99 L864 410.56 L867 410.08 L870 409.51 L873 408.77 L876 407.94 L879 407.12 L882 406.44 L885 405.86 L888 405.3 L891 404.81 L894 404.47 L897 404.33 L900 404.26 L903 404.22 L906 404.17 L909 404.1 L912 403.98 L915 403.78 L918 403.52 L921 403.21 L924 402.86 L927 402.37 L930 401.75 L933 401.07 L936 400.38 L939 399.68 L942 398.9 L945 398.11 L948 397.36 L951 396.69 L954 396.12 L957 395.56 L960 394.9 L963 394.08 L966 393.13 L969 392.08 L972 390.95 L975 389.77 L978 388.56 L981 387.33 L984 385.99 L987 384.52 L990 383 L993 381.49 L996 380.05 L999 378.76 L1002 377.63 L1005 376.42 L1008 375.29 L1011 374.45 L1014 374.11 L1017 374.35 L1020 374.96 L1023 375.74 L1026 376.5 L1029 377.06 L1032 377.61 L1035 378.13 L1038 378.56 L1041 378.84 L1044 379 L1047 379.15 L1050 379.28 L1053 379.38 L1056 379.46 L1059 379.51 L1062 379.51 L1065 379.36 L1068 378.99 L1071 378.45 L1074 377.76 L1077 376.94 L1080 376.01 L1083 374.91 L1086 372.95 L1089 370.33 L1092 367.48 L1095 364.81 L1098 362.33 L1101 359.75 L1104 357.24 L1107 354.97 L1110 353.07 L1113 351.46 L1116 350.01 L1119 348.63 L1122 347.19 L1125 345.6 L1128 343.89 L1131 342.27 L1134 340.91 L1137 339.98 L1140 339.35 L1143 338.85 L1146 338.34 L1149 337.68 L1152 336.79 L1155 335.69 L1158 334.43 L1161 333.06 L1164 331.61 L1167 330.01 L1170 328.25 L1173 326.34 L1176 324.31 L1179 322.13 L1182 319.74 L1185 317.18 L1188 314.5 L1191 311.65 L1194 308.54 L1197 305.33 L1200 302.22 L1203 299.33 L1206 296.53 L1209 293.8 L1212 291.09 L1215 288.38 L1218 285.31 L1221 282.71 L1224 281.57 L1227 280.9 L1230 280.38 L1233 279.72 L1236 278.58 L1239 276.13 L1242 273.55 L1245 271.74 L1248 270 L1251 267.71 L1254 265.15 L1257 263.22 L1260 261.5 L1263 259.99 L1266 258.78 L1269 258.03 L1272 257.61 L1275 257.31 L1278 257.06 L1281 256.82 L1284 256.54 L1287 256.3 L1290 255.82 L1293 254.1 L1296 251.97 L1299 250.2 L1302 248.4 L1305 246.47 L1308 244.46 L1311 242.36 L1313.63 240.45" stroke="#0000ff" stroke-width="2.7"/>
<path d="M0 499.77 L3 499.41 L6 499.03 L9 498.64 L12 498.25 L15 497.84 L18 497.43 L21 497 L24 496.57 L27 496.13 L30 495.68 L33 495.23 L36 494.78 L39 494.31 L42 493.83 L45 493.33 L48 492.81 L51 492.26 L54 491.68 L57 491.06 L60 490.41 L63 489.72 L66 488.99 L69 488.24 L72 487.45 L75 486.64 L78 485.8 L81 484.94 L84 484.01 L87 482.99 L90 481.9 L93 480.77 L96 479.63 L99 478.5 L102 477.42 L105 476.4 L108 475.48 L111 474.63 L114 473.77 L117 472.93 L120 472.12 L123 471.35 L126 470.64 L129 470 L132 469.44 L135 468.97 L138 468.56 L141 468.16 L144 467.83 L147 467.63 L150 467.6 L153 467.61 L156 467.65 L159 467.7 L162 467.75 L165 467.81 L168 467.87 L171 467.93 L174 467.98 L177 468.01 L180 468.04 L183 468.07 L186 468.09 L189 468.12 L192 468.14 L195 468.17 L198 468.2 L201 468.24 L204 468.29 L207 468.35 L210 468.43 L213 468.53 L216 468.64 L219 468.76 L222 468.91 L225 469.06 L228 469.23 L231 469.41 L234 469.6 L237 469.81 L240 470.03 L243 470.29 L246 470.64 L249 471.06 L252 471.54 L255 472.08 L258 472.65 L261 473.27 L264 473.9 L267 474.56 L270 475.22 L273 475.88 L276 476.52 L279 477.15 L282 477.75 L285 478.39 L288 479.05 L291 479.74 L294 480.45 L297 481.16 L300 481.88 L303 482.58 L306 483.27 L309 483.94 L312 484.58 L315 485.18 L318 485.73 L321 486.23 L324 486.7 L327 487.18 L330 487.65 L333 488.1 L336 488.51 L339 488.88 L342 489.2 L345 489.45 L348 489.63 L351 489.75 L354 489.86 L357 489.97 L360 490.06 L363 490.15 L366 490.21 L369 490.26 L372 490.3 L375 490.31 L378 490.31 L381 490.31 L384 490.31 L387 490.31 L390 490.31 L393 490.31 L396 490.31 L399 490.31 L402 490.31 L405 490.31 L408 490.31 L411 490.31 L414 490.31 L417 490.3 L420 490.18 L423 489.95 L426 489.63 L429 489.24 L432 488.81 L435 488.35 L438 487.89 L441 487.45 L444 487.04 L447 486.58 L450 486.08 L453 485.53 L456 484.97 L459 484.39 L462 483.82 L465 483.27 L468 482.76 L471 482.29 L474 481.89 L477 481.56 L480 481.32 L483 481.14 L486 480.96 L489 480.79 L492 480.63 L495 480.47 L498 480.33 L501 480.2 L504 480.09 L507 479.99 L510 479.91 L513 479.84 L516 479.8 L519 479.78 L522 479.78 L525 479.82 L528 479.89 L531 480 L534 480.12 L537 480.26 L540 480.41 L543 480.56 L546 480.7 L549 480.83 L552 480.95 L555 481.04 L558 481.1 L561 481.12 L564 481.12 L567 481.12 L570 481.12 L573 481.12 L576 481.12 L579 481.12 L582 481.12 L585 481.12 L588 481.12 L591 481.12 L594 481.12 L597 481.12 L600 481.12 L603 481.11 L606 481.02 L609 480.85 L612 480.61 L615 480.33 L618 480.04 L621 479.74 L624 479.45 L627 479.21 L630 479.02 L633 478.86 L636 478.71 L639 478.57 L642 478.43 L645 478.3 L648 478.16 L651 478.01 L654 477.85 L657 477.67 L660 477.48 L663 477.29 L666 477.09 L669 476.88 L672 476.65 L675 476.41 L678 476.16 L681 475.89 L684 475.6 L687 475.3 L690 474.98 L693 474.64 L696 474.28 L699 473.89 L702 473.49 L705 473.06 L708 472.6 L711 472.11 L714 471.59 L717 471.04 L720 470.46 L723 469.79 L726 469.01 L729 468.12 L732 467.15 L735 466.12 L738 465.06 L741 463.98 L744 462.9 L747 461.84 L750 460.79 L753 459.69 L756 458.56 L759 457.42 L762 456.26 L765 455.1 L768 453.95 L771 452.82 L774 451.72 L777 450.63 L780 449.55 L783 448.47 L786 447.39 L789 446.33 L792 445.28 L795 444.25 L798 443.25 L801 442.26 L804 441.31 L807 440.38 L810 439.47 L813 438.57 L816 437.69 L819 436.81 L822 435.94 L825 435.05 L828 434.16 L831 433.27 L834 432.38 L837 431.51 L840 430.63 L843 429.75 L846 428.85 L849 427.95 L852 427.02 L855 426.07 L858 425.07 L861 424.01 L864 422.92 L867 421.8 L870 420.69 L873 419.59 L876 418.54 L879 417.53 L882 416.61 L885 415.76 L888 414.97 L891 414.22 L894 413.5 L897 412.8 L900 412.1 L903 411.38 L906 410.64 L909 409.85 L912 409.01 L915 408.1 L918 407.15 L921 406.19 L924 405.22 L927 404.27 L930 403.36 L933 402.51 L936 401.74 L939 401.04 L942 400.38 L945 399.76 L948 399.16 L951 398.59 L954 398.03 L957 397.48 L960 396.93 L963 396.39 L966 395.86 L969 395.36 L972 394.86 L975 394.36 L978 393.87 L981 393.38 L984 392.88 L987 392.37 L990 391.84 L993 391.28 L996 390.71 L999 390.14 L1002 389.58 L1005 389.04 L1008 388.52 L1011 388.06 L1014 387.64 L1017 387.29 L1020 387 L1023 386.75 L1026 386.51 L1029 386.27 L1032 386.02 L1035 385.73 L1038 385.37 L1041 384.95 L1044 384.3 L1047 383.39 L1050 382.36 L1053 381.35 L1056 380.51 L1059 379.76 L1062 379.05 L1065 378.32 L1068 377.54 L1071 376.69 L1074 375.81 L1077 374.91 L1080 373.97 L1083 373 L1086 372 L1089 370.96 L1092 369.89 L1095 368.78 L1098 367.59 L1101 366.27 L1104 364.86 L1107 363.41 L1110 361.94 L1113 360.49 L1116 359.09 L1119 357.79 L1122 356.62 L1125 355.59 L1128 354.64 L1131 353.76 L1134 352.92 L1137 352.1 L1140 351.28 L1143 350.42 L1146 349.51 L1149 348.52 L1152 347.46 L1155 346.35 L1158 345.15 L1161 343.86 L1164 342.41 L1167 340.66 L1170 338.72 L1173 336.8 L1176 335.07 L1179 333.61 L1182 332.3 L1185 331.08 L1188 329.91 L1191 328.74 L1194 327.52 L1197 326.21 L1200 324.76 L1203 323.12 L1206 321.33 L1209 319.43 L1212 317.45 L1215 315.44 L1218 313.33 L1221 311.08 L1224 308.76 L1227 306.44 L1230 304.18 L1233 302.06 L1236 300.13 L1239 298.42 L1242 296.84 L1245 295.27 L1248 293.61 L1251 291.76 L1254 289.75 L1257 287.7 L1260 285.74 L1263 283.97 L1266 282.36 L1269 280.84 L1272 279.39 L1275 277.99 L1278 276.62 L1281 275.32 L1284 274.07 L1285.24 273.57" stroke="#ff0000" stroke-width="3.6"/>
<path d="M0 509.51 L3 509.14 L6 508.76 L9 508.37 L12 507.96 L15 507.54 L18 507.11 L21 506.67 L24 506.22 L27 505.75 L30 505.28 L33 504.79 L36 504.3 L39 503.79 L42 503.28 L45 502.76 L48 502.23 L51 501.69 L54 501.14 L57 500.57 L60 499.97 L63 499.34 L66 498.68 L69 498 L72 497.31 L75 496.59 L78 495.87 L81 495.15 L84 494.42 L87 493.69 L90 492.97 L93 492.26 L96 491.56 L99 490.88 L102 490.22 L105 489.59 L108 488.99 L111 488.41 L114 487.84 L117 487.27 L120 486.71 L123 486.17 L126 485.63 L129 485.1 L132 484.59 L135 484.08 L138 483.59 L141 483.11 L144 482.64 L147 482.18 L150 481.74 L153 481.3 L156 480.87 L159 480.46 L162 480.05 L165 479.66 L168 479.29 L171 478.93 L174 478.6 L177 478.29 L180 477.99 L183 477.72 L186 477.45 L189 477.2 L192 476.96 L195 476.72 L198 476.49 L201 476.25 L204 476.02 L207 475.76 L210 475.48 L213 475.19 L216 474.9 L219 474.61 L222 474.34 L225 474.09 L228 473.86 L231 473.68 L234 473.53 L237 473.44 L240 473.41 L243 473.44 L246 473.55 L249 473.72 L252 473.93 L255 474.19 L258 474.48 L261 474.8 L264 475.13 L267 475.46 L270 475.79 L273 476.11 L276 476.4 L279 476.67 L282 476.89 L285 477.12 L288 477.34 L291 477.56 L294 477.78 L297 478 L300 478.21 L303 478.42 L306 478.62 L309 478.81 L312 478.99 L315 479.17 L318 479.33 L321 479.49 L324 479.63 L327 479.76 L330 479.88 L333 480 L336 480.11 L339 480.21 L342 480.32 L345 480.41 L348 480.51 L351 480.61 L354 480.71 L357 480.81 L360 480.91 L363 481.02 L366 481.13 L369 481.25 L372 481.37 L375 481.51 L378 481.66 L381 481.82 L384 481.99 L387 482.17 L390 482.36 L393 482.55 L396 482.75 L399 482.96 L402 483.17 L405 483.37 L408 483.58 L411 483.79 L414 483.99 L417 484.18 L420 484.37 L423 484.55 L426 484.73 L429 484.89 L432 485.04 L435 485.2 L438 485.37 L441 485.54 L444 485.7 L447 485.87 L450 486.04 L453 486.2 L456 486.35 L459 486.49 L462 486.62 L465 486.74 L468 486.84 L471 486.93 L474 487 L477 487.04 L480 487.07 L483 487.08 L486 487.09 L489 487.1 L492 487.11 L495 487.12 L498 487.13 L501 487.14 L504 487.15 L507 487.16 L510 487.17 L513 487.17 L516 487.18 L519 487.18 L522 487.19 L525 487.19 L528 487.2 L531 487.2 L534 487.2 L537 487.21 L540 487.21 L543 487.21 L546 487.21 L549 487.2 L552 487.15 L555 487.04 L558 486.88 L561 486.69 L564 486.46 L567 486.2 L570 485.92 L573 485.62 L576 485.32 L579 485.01 L582 484.7 L585 484.4 L588 484.11 L591 483.82 L594 483.5 L597 483.16 L600 482.81 L603 482.45 L606 482.09 L609 481.75 L612 481.43 L615 481.14 L618 480.87 L621 480.6 L624 480.34 L627 480.08 L630 479.84 L633 479.61 L636 479.41 L639 479.24 L642 479.11 L645 479 L648 478.92 L651 478.86 L654 478.8 L657 478.74 L660 478.69 L663 478.62 L666 478.54 L669 478.43 L672 478.28 L675 478.07 L678 477.81 L681 477.51 L684 477.17 L687 476.82 L690 476.46 L693 476.1 L696 475.75 L699 475.42 L702 475.1 L705 474.77 L708 474.43 L711 474.07 L714 473.69 L717 473.27 L720 472.83 L723 472.33 L726 471.77 L729 471.15 L732 470.48 L735 469.77 L738 469.02 L741 468.25 L744 467.46 L747 466.65 L750 465.83 L753 465.01 L756 464.19 L759 463.39 L762 462.61 L765 461.86 L768 461.13 L771 460.45 L774 459.82 L777 459.22 L780 458.66 L783 458.13 L786 457.61 L789 457.12 L792 456.64 L795 456.16 L798 455.7 L801 455.23 L804 454.76 L807 454.28 L810 453.79 L813 453.29 L816 452.76 L819 452.21 L822 451.63 L825 451.02 L828 450.37 L831 449.67 L834 448.89 L837 448.06 L840 447.17 L843 446.25 L846 445.29 L849 444.32 L852 443.34 L855 442.36 L858 441.39 L861 440.44 L864 439.52 L867 438.65 L870 437.82 L873 437.02 L876 436.25 L879 435.48 L882 434.73 L885 434 L888 433.27 L891 432.54 L894 431.81 L897 431.09 L900 430.35 L903 429.61 L906 428.86 L909 428.1 L912 427.33 L915 426.55 L918 425.76 L921 424.97 L924 424.18 L927 423.38 L930 422.58 L933 421.78 L936 420.97 L939 420.17 L942 419.36 L945 418.55 L948 417.74 L951 416.93 L954 416.12 L957 415.31 L960 414.5 L963 413.69 L966 412.88 L969 412.06 L972 411.24 L975 410.41 L978 409.59 L981 408.76 L984 407.93 L987 407.1 L990 406.28 L993 405.46 L996 404.64 L999 403.82 L1002 403.01 L1005 402.2 L1008 401.4 L1011 400.61 L1014 399.82 L1017 399.04 L1020 398.27 L1023 397.51 L1026 396.74 L1029 395.99 L1032 395.24 L1035 394.49 L1038 393.74 L1041 393 L1044 392.26 L1047 391.52 L1050 390.78 L1053 390.04 L1056 389.3 L1059 388.56 L1062 387.81 L1065 387.07 L1068 386.32 L1071 385.57 L1074 384.83 L1077 384.09 L1080 383.36 L1083 382.61 L1086 381.87 L1089 381.11 L1092 380.35 L1095 379.57 L1098 378.78 L1101 377.99 L1104 377.19 L1107 376.38 L1110 375.56 L1113 374.73 L1116 373.88 L1119 373.03 L1122 372.16 L1125 371.28 L1128 370.4 L1131 369.51 L1134 368.63 L1137 367.73 L1140 366.82 L1143 365.89 L1146 364.95 L1149 363.99 L1152 363.01 L1155 362 L1158 360.96 L1161 359.9 L1164 358.8 L1167 357.64 L1170 356.44 L1173 355.19 L1176 353.91 L1179 352.59 L1182 351.25 L1185 349.89 L1188 348.52 L1191 347.13 L1194 345.75 L1197 344.38 L1200 343.01 L1203 341.64 L1206 340.25 L1209 338.85 L1212 337.42 L1215 335.99 L1218 334.54 L1221 333.09 L1224 331.63 L1227 330.17 L1230 328.72 L1233 327.26 L1236 325.81 L1239 324.36 L1242 322.93 L1245 321.51 L1248 320.11 L1251 318.72 L1254 317.36 L1257 316.02 L1260 314.71 L1263 313.45 L1266 312.21 L1269 310.96 L1272 309.69 L1275 308.38 L1278 307.05 L1281 305.71 L1283.88 304.4" stroke="#d0a200" stroke-width="1.3"/>
<path d="M0 514.24 L3 513.88 L6 513.53 L9 513.16 L12 512.8 L15 512.43 L18 512.06 L21 511.68 L24 511.3 L27 510.92 L30 510.53 L33 510.14 L36 509.75 L39 509.36 L42 508.96 L45 508.56 L48 508.16 L51 507.75 L54 507.34 L57 506.93 L60 506.52 L63 506.1 L66 505.68 L69 505.25 L72 504.82 L75 504.39 L78 503.94 L81 503.5 L84 503.04 L87 502.58 L90 502.12 L93 501.66 L96 501.19 L99 500.72 L102 500.25 L105 499.77 L108 499.3 L111 498.82 L114 498.35 L117 497.87 L120 497.4 L123 496.93 L126 496.46 L129 495.99 L132 495.53 L135 495.07 L138 494.61 L141 494.12 L144 493.61 L147 493.1 L150 492.56 L153 492.03 L156 491.48 L159 490.94 L162 490.4 L165 489.86 L168 489.33 L171 488.81 L174 488.31 L177 487.83 L180 487.36 L183 486.93 L186 486.52 L189 486.14 L192 485.8 L195 485.49 L198 485.23 L201 485.01 L204 484.84 L207 484.68 L210 484.53 L213 484.39 L216 484.26 L219 484.15 L222 484.03 L225 483.93 L228 483.84 L231 483.75 L234 483.68 L237 483.61 L240 483.55 L243 483.49 L246 483.45 L249 483.4 L252 483.37 L255 483.33 L258 483.3 L261 483.28 L264 483.25 L267 483.22 L270 483.2 L273 483.17 L276 483.14 L279 483.11 L282 483.07 L285 483.03 L288 482.99 L291 482.93 L294 482.87 L297 482.78 L300 482.65 L303 482.47 L306 482.25 L309 482 L312 481.73 L315 481.44 L318 481.15 L321 480.85 L324 480.55 L327 480.26 L330 479.99 L333 479.75 L336 479.53 L339 479.35 L342 479.21 L345 479.12 L348 479.09 L351 479.09 L354 479.09 L357 479.1 L360 479.1 L363 479.11 L366 479.12 L369 479.13 L372 479.14 L375 479.15 L378 479.16 L381 479.17 L384 479.19 L387 479.2 L390 479.2 L393 479.21 L396 479.22 L399 479.22 L402 479.22 L405 479.22 L408 479.22 L411 479.21 L414 479.2 L417 479.2 L420 479.19 L423 479.17 L426 479.16 L429 479.15 L432 479.13 L435 479.12 L438 479.1 L441 479.09 L444 479.07 L447 479.06 L450 479.04 L453 479.03 L456 479.01 L459 479 L462 478.99 L465 478.98 L468 478.97 L471 478.96 L474 478.96 L477 478.95 L480 478.95 L483 478.97 L486 479.04 L489 479.14 L492 479.28 L495 479.44 L498 479.64 L501 479.85 L504 480.08 L507 480.33 L510 480.58 L513 480.84 L516 481.1 L519 481.36 L522 481.62 L525 481.86 L528 482.08 L531 482.29 L534 482.47 L537 482.65 L540 482.83 L543 483.03 L546 483.22 L549 483.42 L552 483.62 L555 483.82 L558 484.02 L561 484.2 L564 484.38 L567 484.55 L570 484.7 L573 484.84 L576 484.95 L579 485.05 L582 485.12 L585 485.16 L588 485.18 L591 485.18 L594 485.18 L597 485.17 L600 485.16 L603 485.15 L606 485.14 L609 485.12 L612 485.1 L615 485.08 L618 485.06 L621 485.03 L624 485 L627 484.97 L630 484.93 L633 484.89 L636 484.85 L639 484.81 L642 484.76 L645 484.71 L648 484.66 L651 484.6 L654 484.54 L657 484.47 L660 484.29 L663 484.01 L666 483.65 L669 483.23 L672 482.77 L675 482.3 L678 481.82 L681 481.37 L684 480.97 L687 480.57 L690 480.17 L693 479.76 L696 479.35 L699 478.94 L702 478.52 L705 478.1 L708 477.67 L711 477.23 L714 476.79 L717 476.33 L720 475.87 L723 475.4 L726 474.91 L729 474.42 L732 473.92 L735 473.41 L738 472.89 L741 472.36 L744 471.83 L747 471.29 L750 470.75 L753 470.21 L756 469.66 L759 469.1 L762 468.55 L765 468 L768 467.44 L771 466.89 L774 466.33 L777 465.78 L780 465.23 L783 464.69 L786 464.14 L789 463.61 L792 463.07 L795 462.54 L798 462.02 L801 461.49 L804 460.97 L807 460.45 L810 459.93 L813 459.4 L816 458.88 L819 458.36 L822 457.83 L825 457.3 L828 456.77 L831 456.23 L834 455.69 L837 455.14 L840 454.59 L843 454.03 L846 453.47 L849 452.9 L852 452.32 L855 451.73 L858 451.13 L861 450.5 L864 449.86 L867 449.21 L870 448.54 L873 447.87 L876 447.18 L879 446.48 L882 445.78 L885 445.08 L888 444.38 L891 443.68 L894 442.98 L897 442.28 L900 441.6 L903 440.92 L906 440.25 L909 439.6 L912 438.96 L915 438.34 L918 437.74 L921 437.15 L924 436.6 L927 436.08 L930 435.58 L933 435.11 L936 434.66 L939 434.22 L942 433.77 L945 433.32 L948 432.86 L951 432.38 L954 431.87 L957 431.32 L960 430.73 L963 430.08 L966 429.38 L969 428.62 L972 427.81 L975 426.97 L978 426.09 L981 425.19 L984 424.26 L987 423.32 L990 422.38 L993 421.43 L996 420.49 L999 419.57 L1002 418.66 L1005 417.78 L1008 416.94 L1011 416.13 L1014 415.37 L1017 414.65 L1020 413.97 L1023 413.32 L1026 412.69 L1029 412.07 L1032 411.47 L1035 410.86 L1038 410.26 L1041 409.64 L1044 409.01 L1047 408.36 L1050 407.68 L1053 406.97 L1056 406.22 L1059 405.43 L1062 404.63 L1065 403.79 L1068 402.93 L1071 402.05 L1074 401.15 L1077 400.24 L1080 399.3 L1083 398.36 L1086 397.4 L1089 396.43 L1092 395.45 L1095 394.46 L1098 393.46 L1101 392.42 L1104 391.35 L1107 390.26 L1110 389.16 L1113 388.03 L1116 386.9 L1119 385.76 L1122 384.63 L1125 383.49 L1128 382.37 L1131 381.25 L1134 380.16 L1137 379.08 L1140 378.01 L1143 376.94 L1146 375.88 L1149 374.83 L1152 373.78 L1155 372.73 L1158 371.7 L1161 370.67 L1164 369.65 L1167 368.66 L1170 367.7 L1173 366.75 L1176 365.81 L1179 364.87 L1182 363.93 L1185 362.99 L1188 362.02 L1191 361.04 L1194 360.02 L1197 358.98 L1200 357.88 L1203 356.73 L1206 355.51 L1209 354.23 L1212 352.91 L1215 351.56 L1218 350.18 L1221 348.8 L1224 347.41 L1227 346.05 L1230 344.7 L1233 343.4 L1236 342.15 L1239 340.95 L1242 339.83 L1245 338.73 L1248 337.64 L1251 336.57 L1254 335.52 L1257 334.49 L1260 333.47 L1263 332.48 L1266 331.51 L1269 330.55 L1272 329.62 L1275 328.72 L1278 327.83 L1281 326.97 L1284 326.14 L1285.19 325.82" stroke="#a030d8" stroke-width="3.6"/>
<path d="M0 563.3 L3 562.95 L6 562.6 L9 562.25 L12 561.9 L15 561.55 L18 561.2 L21 560.86 L24 560.51 L27 560.16 L30 559.81 L33 559.46 L36 559.12 L39 558.77 L42 558.42 L45 558.08 L48 557.73 L51 557.39 L54 557.04 L57 556.69 L60 556.35 L63 556 L66 555.66 L69 555.32 L72 554.97 L75 554.63 L78 554.28 L81 553.94 L84 553.6 L87 553.25 L90 552.91 L93 552.57 L96 552.23 L99 551.89 L102 551.54 L105 551.2 L108 550.86 L111 550.52 L114 550.18 L117 549.84 L120 549.5 L123 549.16 L126 548.82 L129 548.48 L132 548.14 L135 547.8 L138 547.46 L141 547.12 L144 546.78 L147 546.44 L150 546.1 L153 545.76 L156 545.41 L159 545.07 L162 544.74 L165 544.4 L168 544.06 L171 543.72 L174 543.38 L177 543.04 L180 542.7 L183 542.37 L186 542.03 L189 541.69 L192 541.36 L195 541.02 L198 540.69 L201 540.36 L204 540.02 L207 539.69 L210 539.36 L213 539.03 L216 538.7 L219 538.37 L222 538.04 L225 537.72 L228 537.39 L231 537.07 L234 536.74 L237 536.42 L240 536.1 L243 535.78 L246 535.46 L249 535.14 L252 534.82 L255 534.51 L258 534.19 L261 533.87 L264 533.56 L267 533.25 L270 532.93 L273 532.62 L276 532.31 L279 532 L282 531.69 L285 531.38 L288 531.07 L291 530.76 L294 530.45 L297 530.14 L300 529.84 L303 529.53 L306 529.22 L309 528.92 L312 528.61 L315 528.31 L318 528 L321 527.7 L324 527.4 L327 527.1 L330 526.8 L333 526.49 L336 526.19 L339 525.89 L342 525.59 L345 525.29 L348 524.99 L351 524.69 L354 524.4 L357 524.1 L360 523.8 L363 523.5 L366 523.21 L369 522.91 L372 522.62 L375 522.33 L378 522.04 L381 521.76 L384 521.47 L387 521.18 L390 520.9 L393 520.61 L396 520.33 L399 520.04 L402 519.76 L405 519.47 L408 519.19 L411 518.9 L414 518.62 L417 518.33 L420 518.04 L423 517.75 L426 517.46 L429 517.17 L432 516.88 L435 516.59 L438 516.29 L441 516 L444 515.7 L447 515.4 L450 515.09 L453 514.77 L456 514.46 L459 514.14 L462 513.82 L465 513.5 L468 513.18 L471 512.87 L474 512.57 L477 512.28 L480 512 L483 511.73 L486 511.46 L489 511.19 L492 510.92 L495 510.66 L498 510.4 L501 510.15 L504 509.89 L507 509.64 L510 509.39 L513 509.15 L516 508.9 L519 508.66 L522 508.42 L525 508.18 L528 507.94 L531 507.71 L534 507.47 L537 507.24 L540 507.01 L543 506.78 L546 506.55 L549 506.32 L552 506.1 L555 505.87 L558 505.64 L561 505.42 L564 505.19 L567 504.97 L570 504.75 L573 504.52 L576 504.3 L579 504.07 L582 503.85 L585 503.63 L588 503.4 L591 503.18 L594 502.95 L597 502.73 L600 502.5 L603 502.27 L606 502.05 L609 501.83 L612 501.61 L615 501.39 L618 501.17 L621 500.96 L624 500.75 L627 500.53 L630 500.32 L633 500.11 L636 499.9 L639 499.69 L642 499.49 L645 499.28 L648 499.07 L651 498.86 L654 498.66 L657 498.45 L660 498.24 L663 498.03 L666 497.82 L669 497.61 L672 497.4 L675 497.19 L678 496.98 L681 496.76 L684 496.55 L687 496.33 L690 496.11 L693 495.89 L696 495.67 L699 495.44 L702 495.22 L705 494.99 L708 494.76 L711 494.52 L714 494.28 L717 494.04 L720 493.8 L723 493.55 L726 493.3 L729 493.04 L732 492.78 L735 492.52 L738 492.25 L741 491.98 L744 491.71 L747 491.43 L750 491.15 L753 490.87 L756 490.59 L759 490.31 L762 490.03 L765 489.74 L768 489.46 L771 489.17 L774 488.89 L777 488.61 L780 488.33 L783 488.05 L786 487.77 L789 487.49 L792 487.22 L795 486.94 L798 486.67 L801 486.39 L804 486.11 L807 485.84 L810 485.56 L813 485.28 L816 485.01 L819 484.73 L822 484.45 L825 484.18 L828 483.9 L831 483.62 L834 483.35 L837 483.07 L840 482.8 L843 482.53 L846 482.26 L849 481.98 L852 481.71 L855 481.45 L858 481.18 L861 480.91 L864 480.65 L867 480.4 L870 480.15 L873 479.91 L876 479.66 L879 479.4 L882 479.14 L885 478.88 L888 478.6 L891 478.3 L894 477.99 L897 477.66 L900 477.32 L903 476.97 L906 476.61 L909 476.24 L912 475.87 L915 475.49 L918 475.11 L921 474.73 L924 474.35 L927 473.97 L930 473.59 L933 473.23 L936 472.87 L939 472.51 L942 472.17 L945 471.84 L948 471.51 L951 471.19 L954 470.87 L957 470.56 L960 470.24 L963 469.94 L966 469.63 L969 469.33 L972 469.02 L975 468.72 L978 468.42 L981 468.11 L984 467.81 L987 467.5 L990 467.19 L993 466.88 L996 466.56 L999 466.24 L1002 465.91 L1005 465.58 L1008 465.25 L1011 464.9 L1014 464.55 L1017 464.19 L1020 463.82 L1023 463.45 L1026 463.07 L1029 462.67 L1032 462.28 L1035 461.87 L1038 461.47 L1041 461.05 L1044 460.63 L1047 460.2 L1050 459.77 L1053 459.33 L1056 458.89 L1059 458.44 L1062 457.99 L1065 457.53 L1068 457.07 L1071 456.6 L1074 456.13 L1077 455.66 L1080 455.18 L1083 454.7 L1086 454.21 L1089 453.73 L1092 453.24 L1095 452.74 L1098 452.25 L1101 451.75 L1104 451.25 L1107 450.74 L1110 450.21 L1113 449.68 L1116 449.14 L1119 448.6 L1122 448.04 L1125 447.48 L1128 446.92 L1131 446.35 L1134 445.77 L1137 445.19 L1140 444.61 L1143 444.03 L1146 443.44 L1149 442.86 L1152 442.27 L1155 441.68 L1158 441.1 L1161 440.52 L1164 439.94 L1167 439.36 L1170 438.79 L1173 438.22 L1176 437.65 L1179 437.1 L1182 436.55 L1185 436 L1188 435.46 L1191 434.92 L1194 434.38 L1197 433.84 L1200 433.3 L1203 432.77 L1206 432.23 L1209 431.7 L1212 431.17 L1215 430.64 L1218 430.11 L1221 429.59 L1224 429.06 L1227 428.54 L1230 428.02 L1233 427.5 L1236 426.99 L1239 426.47 L1242 425.96 L1245 425.45 L1248 424.94 L1251 424.43 L1254 423.92 L1257 423.42 L1260 422.92 L1263 422.42 L1266 421.92 L1269 421.42 L1272 420.93 L1275 420.43 L1278 419.94 L1281 419.45 L1284 418.96 L1285 418.8" stroke="#00ff7f" stroke-width="3.6"/>
</g>
<rect x="234.6" y="526.4" width="4.2" height="4.2" fill="#fff" stroke="#ff0000" stroke-width="0.8"/>
<rect x="-10" y="107.9" width="1746.0" height="3.7" fill="#ff0000"/>
<rect x="-10" y="164.4" width="1746.0" height="3.7" fill="#ff0000"/>
<text id="bigprice" transform="scale(0.92,1)" x="1602.6 1655.9 1705.2 1728.7 1783.4 1834.6" y="125.7 124.9 128.5 126.5 126.5 126.5" font-family="'Liberation Sans','DejaVu Sans',sans-serif" font-size="87.1" fill="#ff0000" stroke="#ff0000" stroke-width="1.2" stroke-linejoin="round" paint-order="stroke">48.656</text>
<g id="arrows">
<polygon points="1002.97,400.14 1076.05,326.46 1079.18,332.64 1087.8,307.9 1063.78,318.36 1070.18,321.02 1002.23,399.46" fill="#f25555"/>
<polygon points="1094.37,311.16 1102.66,327.27 1096.37,329.15 1115.5,340.3 1112.06,318.43 1108.03,323.61 1096.03,310.04" fill="#f25555"/>
<polygon points="1125.34,348.07 1293.28,195.42 1296.16,202.32 1308,176.9 1281.83,186.96 1288.51,190.31 1124.66,347.33" fill="#f25555"/>
<polygon points="236.11,535.49 577.9,460.67 576.75,466.83 599,452 572.51,448.31 576.23,453.36 235.89,534.51" fill="#fff"/>
<polygon points="602.19,454.56 642.09,476.03 637.21,480.95 663.2,481.8 645.51,462.75 644.99,469.66 602.61,453.64" fill="#fff"/>
<polygon points="674.21,489.06 960.66,363.13 960.65,369.17 979.5,350.2 952.81,351.86 957.35,355.84 673.79,488.14" fill="#fff"/>
<polygon points="986.41,348.49 990.03,385.98 982.78,384.83 995.4,405.2 1001.58,382.05 994.98,385.25 987.59,348.31" fill="#fff"/>
<polygon points="1013.67,406.02 1376.61,182.81 1377.81,189.44 1393.7,167.7 1367.2,172.48 1372.64,176.45 1013.13,405.18" fill="#fff"/>
<polygon points="1189.5,114.7 1650.93,113.44 1648.58,119.21 1672.5,110 1648.42,101.21 1650.87,106.94 1189.5,113.7" fill="#fff"/>
<polygon points="1136.01,169.5 1575.64,167.2 1573.31,173.48 1597.2,163.7 1573.09,154.48 1575.56,160.7 1135.99,168.5" fill="#fff"/>
</g>
<rect x="1727" y="105.8" width="8.2" height="8.4" fill="#fff" stroke="#ff0000" stroke-width="0.8"/>
<rect x="1727" y="162.8" width="8.2" height="8.4" fill="#fff" stroke="#ff0000" stroke-width="0.8"/>
<g id="axis" font-family="'Liberation Sans',sans-serif" font-size="9" fill="#ffffff">
<rect x="1736.0" y="56.1" width="3.5" height="1" fill="#e0e0e0"/>
<text x="1740.6" y="59.5" textLength="25.2" lengthAdjust="spacingAndGlyphs">54.400</text>
<rect x="1736.0" y="84.86" width="3.5" height="1" fill="#e0e0e0"/>
<text x="1740.6" y="88.26" textLength="25.2" lengthAdjust="spacingAndGlyphs">53.290</text>
<rect x="1736.0" y="113.62" width="3.5" height="1" fill="#e0e0e0"/>
<text x="1740.6" y="117.02" textLength="25.2" lengthAdjust="spacingAndGlyphs">52.180</text>
<rect x="1736.0" y="142.38" width="3.5" height="1" fill="#e0e0e0"/>
<text x="1740.6" y="145.78" textLength="25.2" lengthAdjust="spacingAndGlyphs">51.070</text>
<rect x="1736.0" y="171.14" width="3.5" height="1" fill="#e0e0e0"/>
<text x="1740.6" y="174.54" textLength="25.2" lengthAdjust="spacingAndGlyphs">49.960</text>
<rect x="1736.0" y="199.9" width="3.5" height="1" fill="#e0e0e0"/>
<text x="1740.6" y="203.3" textLength="25.2" lengthAdjust="spacingAndGlyphs">48.850</text>
<rect x="1736.0" y="228.66" width="3.5" height="1" fill="#e0e0e0"/>
<text x="1740.6" y="232.06" textLength="25.2" lengthAdjust="spacingAndGlyphs">47.740</text>
<rect x="1736.0" y="257.42" width="3.5" height="1" fill="#e0e0e0"/>
<text x="1740.6" y="260.82" textLength="25.2" lengthAdjust="spacingAndGlyphs">46.630</text>
<rect x="1736.0" y="286.18" width="3.5" height="1" fill="#e0e0e0"/>
<text x="1740.6" y="289.58" textLength="25.2" lengthAdjust="spacingAndGlyphs">45.520</text>
<rect x="1736.0" y="314.94" width="3.5" height="1" fill="#e0e0e0"/>
<text x="1740.6" y="318.34" textLength="25.2" lengthAdjust="spacingAndGlyphs">44.410</text>
<rect x="1736.0" y="343.7" width="3.5" height="1" fill="#e0e0e0"/>
<text x="1740.6" y="347.1" textLength="25.2" lengthAdjust="spacingAndGlyphs">43.300</text>
<rect x="1736.0" y="372.46" width="3.5" height="1" fill="#e0e0e0"/>
<text x="1740.6" y="375.86" textLength="25.2" lengthAdjust="spacingAndGlyphs">42.190</text>
<rect x="1736.0" y="401.22" width="3.5" height="1" fill="#e0e0e0"/>
<text x="1740.6" y="404.62" textLength="25.2" lengthAdjust="spacingAndGlyphs">41.080</text>
<rect x="1736.0" y="429.98" width="3.5" height="1" fill="#e0e0e0"/>
<text x="1740.6" y="433.38" textLength="25.2" lengthAdjust="spacingAndGlyphs">39.970</text>
<rect x="1736.0" y="458.74" width="3.5" height="1" fill="#e0e0e0"/>
<text x="1740.6" y="462.14" textLength="25.2" lengthAdjust="spacingAndGlyphs">38.860</text>
<rect x="1736.0" y="487.5" width="3.5" height="1" fill="#e0e0e0"/>
<text x="1740.6" y="490.9" textLength="25.2" lengthAdjust="spacingAndGlyphs">37.750</text>
<rect x="1736.0" y="516.26" width="3.5" height="1" fill="#e0e0e0"/>
<text x="1740.6" y="519.66" textLength="25.2" lengthAdjust="spacingAndGlyphs">36.640</text>
<rect x="1736.0" y="545.02" width="3.5" height="1" fill="#e0e0e0"/>
<text x="1740.6" y="548.42" textLength="25.2" lengthAdjust="spacingAndGlyphs">35.530</text>
<rect x="1736.0" y="573.78" width="3.5" height="1" fill="#e0e0e0"/>
<text x="1740.6" y="577.18" textLength="25.2" lengthAdjust="spacingAndGlyphs">34.420</text>
<rect x="1736.0" y="602.54" width="3.5" height="1" fill="#e0e0e0"/>
<text x="1740.6" y="605.94" textLength="25.2" lengthAdjust="spacingAndGlyphs">33.310</text>
<rect x="1736.0" y="631.3" width="3.5" height="1" fill="#e0e0e0"/>
<text x="1740.6" y="634.7" textLength="25.2" lengthAdjust="spacingAndGlyphs">32.200</text>
<rect x="1736.0" y="660.06" width="3.5" height="1" fill="#e0e0e0"/>
<text x="1740.6" y="663.46" textLength="25.2" lengthAdjust="spacingAndGlyphs">31.090</text>
<rect x="1736.0" y="688.82" width="3.5" height="1" fill="#e0e0e0"/>
<text x="1740.6" y="692.22" textLength="25.2" lengthAdjust="spacingAndGlyphs">29.980</text>
<text x="1740.6" y="727.5" textLength="25.2" lengthAdjust="spacingAndGlyphs">2.3103</text>
<text x="1740.6" y="942.2" textLength="28" lengthAdjust="spacingAndGlyphs">-1.6325</text>
<text x="1740.6" y="952.7" textLength="29.5" lengthAdjust="spacingAndGlyphs">0.49227</text>
<text x="1740.6" y="1150" textLength="32.5" lengthAdjust="spacingAndGlyphs">-0.47740</text>
</g>
<rect x="1736.0" y="720.0" width="3.5" height="1" fill="#e0e0e0"/>
<rect x="1736.0" y="942.3" width="3.5" height="1" fill="#e0e0e0"/>
<rect x="1736.0" y="945.3" width="3.5" height="1" fill="#e0e0e0"/>
<rect x="1736.0" y="1150.1" width="3.5" height="1" fill="#e0e0e0"/>
<g font-family="'Liberation Sans',sans-serif" font-size="9" fill="#3a0000" stroke="#3a0000" stroke-width="0.25">
<rect x="1738" y="105.2" width="31" height="9.6" fill="#ff0000"/>
<text x="1740.6" y="113.2" textLength="25.2" lengthAdjust="spacingAndGlyphs">52.344</text>
<rect x="1738" y="162.2" width="31" height="9.6" fill="#ff0000"/>
<text x="1740.6" y="170.2" textLength="25.2" lengthAdjust="spacingAndGlyphs">50.136</text>
</g>
<g id="fiblabels" font-family="'Liberation Sans',sans-serif" font-size="8.3" fill="#f4f400" text-anchor="end">
<text x="1734.5" y="255.4">46.611</text>
<text x="1701.2" y="255.4">300</text>
<text x="1734.5" y="283.5">45.524</text>
<text x="1701.2" y="283.5">261.8</text>
<text x="1734.5" y="329.5">43.766</text>
<text x="1701.2" y="329.5">200</text>
<text x="1734.5" y="357.5">42.679</text>
<text x="1701.2" y="357.5">FE 161.8</text>
<text x="1734.5" y="403.1">40.921</text>
<text x="1698.2" y="403.1">FE 100.0</text>
<text x="1734.5" y="431">39.834</text>
<text x="1698.2" y="431">FE 61.8</text>
<text x="1733.8" y="107.8">500 52.301</text>
<text x="1733.8" y="164.8">423.8 50.133</text>
</g>
<defs>
<linearGradient id="wg" x1="0" y1="0" x2="0" y2="1"><stop offset="0.05" stop-color="#0b5d86"/><stop offset="0.55" stop-color="#0b4872"/><stop offset="1" stop-color="#0d2a5c"/></linearGradient>
<linearGradient id="wg2" x1="0" y1="0" x2="0" y2="1"><stop offset="0" stop-color="#125b85"/><stop offset="1" stop-color="#0f2c58"/></linearGradient>
<linearGradient id="cg" x1="0" y1="0" x2="0" y2="1"><stop offset="0.2" stop-color="#ffff00"/><stop offset="0.86" stop-color="#14ff14"/></linearGradient>
</defs>
<g id="watermark">
<path d="M1285.5 930 C1288.3 940 1288.2 950 1284.6 956.4 C1288 957.2 1291.2 958.2 1294 959.3 C1281 960.8 1268.5 970 1263.8 983 C1259.8 995 1262 1010 1268.6 1019.6 C1257.5 1014 1248.8 1006 1243.2 999 C1237 1001.6 1228 1001.2 1221.8 997.6 C1227 996.8 1230.6 994.6 1232.8 991.6 C1227 992.2 1222.6 989.6 1219.2 985.6 C1225.4 985.8 1230.6 984 1234.4 981.4 C1221 977.2 1207.8 969.6 1197.6 959 C1215 968.6 1232 967.4 1242.2 954.4 C1248.6 946.2 1256 942 1263.2 940.8 C1268 940.2 1271 939.8 1273.2 939.4 C1278.2 937 1282.4 934 1285.5 930 Z" fill="url(#wg2)" opacity="0.95"/>
<path d="M1273 941 C1262 950 1254.5 965 1254 982 C1253.8 996 1259.5 1010 1268.6 1019.6 C1259.5 1005 1257.5 990 1260 976 C1262 963 1267 950 1273 941 Z" fill="#061c3c" opacity="0.35"/>
<rect x="1247.5" y="943.6" width="40.5" height="1.5" fill="#7db4d4" opacity="0.75"/>
<text x="1306.8 1383.6 1431.5 1446.1 1490.7 1510.6 1552.7 1597.0 1643.9 1687.8" y="1021" font-family="'Liberation Sans',sans-serif" font-size="81.8" fill="url(#wg)" stroke="url(#wg)" stroke-width="0.6" stroke-linejoin="round">WolFinance</text>
<rect x="1206" y="1050.6" width="530.0" height="1" fill="#5a5a5a" opacity="0.8"/>
</g>
<path d="M2.75 850.76V840.25M6.35 850.76V843.25M9.95 850.76V846.51M13.55 850.76V848.76M17.15 850.76V851.36M20.75 850.76V851.36M42.35 850.76V844.75M45.95 850.76V845.76M49.55 850.76V846.76M53.15 850.76V847.51M85.55 850.76V812.2M107.15 850.76V802.43M110.75 850.76V806.19M114.35 850.76V808.19M117.95 850.76V812.45M121.55 850.76V817.96M125.15 850.76V823.22M128.75 850.76V827.72M132.35 850.76V832.98M135.95 850.76V835.24M139.55 850.76V837.24M143.15 850.76V838.49M146.75 850.76V840.5M150.35 850.76V847.76M153.95 850.76V857.02M157.55 850.76V866.54M161.15 850.76V877.56M164.75 850.76V884.82M168.35 850.76V887.58M175.55 850.76V887.58M182.75 850.76V888.08M186.35 850.76V888.58M218.75 850.76V879.56M222.35 850.76V886.58M225.95 850.76V894.34M229.55 850.76V903.36M233.15 850.76V909.12M236.75 850.76V917.88M240.35 850.76V920.89M243.95 850.76V921.64M247.55 850.76V921.89M251.15 850.76V923.39M362.75 850.76V806.94M366.35 850.76V808.69M369.95 850.76V810.94M373.55 850.76V812.45M377.15 850.76V815.95M380.75 850.76V817.21M384.35 850.76V819.71M387.95 850.76V825.22M391.55 850.76V830.23M395.15 850.76V835.49M398.75 850.76V844.75M402.35 850.76V852.02M405.95 850.76V857.78M409.55 850.76V860.53M413.15 850.76V860.78M416.75 850.76V861.53M456.35 850.76V828.47M459.95 850.76V830.98M463.55 850.76V836.74M467.15 850.76V842.25M470.75 850.76V849.76M474.35 850.76V853.27M477.95 850.76V856.52M481.55 850.76V858.53M485.15 850.76V859.53M488.75 850.76V859.53M521.15 850.76V851.77M524.75 850.76V852.77M528.35 850.76V854.77M531.95 850.76V857.78M535.55 850.76V864.79M539.15 850.76V870.3M542.75 850.76V876.56M546.35 850.76V885.32M549.95 850.76V891.59M618.35 850.76V803.18M621.95 850.76V806.19M625.55 850.76V809.69M629.15 850.76V815.2M632.75 850.76V818.96M636.35 850.76V821.46M639.95 850.76V824.47M643.55 850.76V827.72M647.15 850.76V827.72M650.75 850.76V827.72M654.35 850.76V830.23M657.95 850.76V833.23M661.55 850.76V837.74M665.15 850.76V842.25M668.75 850.76V845.76M672.35 850.76V848.26M697.55 850.76V830.23M701.15 850.76V831.98M704.75 850.76V833.98M708.35 850.76V835.24M744.35 850.76V766.37M747.95 850.76V769.62M751.55 850.76V775.63M755.15 850.76V780.14M758.75 850.76V782.14M762.35 850.76V784.4M765.95 850.76V785.9M776.75 850.76V785.9M780.35 850.76V786.4M783.95 850.76V788.15M787.55 850.76V790.66M791.15 850.76V795.17M794.75 850.76V801.68M798.35 850.76V810.69M801.95 850.76V818.96M805.55 850.76V824.47M809.15 850.76V827.72M812.75 850.76V832.23M816.35 850.76V833.48M827.15 850.76V834.74M830.75 850.76V837.24M834.35 850.76V838.24M837.95 850.76V842M841.55 850.76V842.75M863.15 850.76V828.47M866.75 850.76V831.98M870.35 850.76V837.24M873.95 850.76V842.75M877.55 850.76V849.01M881.15 850.76V851.36M902.75 850.76V844.75M906.35 850.76V845.76M942.35 850.76V802.18M945.95 850.76V806.44M949.55 850.76V807.19M953.15 850.76V809.44M956.75 850.76V810.19M978.35 850.76V798.92M981.95 850.76V802.18M985.55 850.76V803.93M989.15 850.76V811.45M992.75 850.76V822.71M996.35 850.76V837.24M999.95 850.76V846.51M1003.55 850.76V856.52M1007.15 850.76V862.28M1010.75 850.76V866.54M1014.35 850.76V866.04M1017.95 850.76V867.29M1021.55 850.76V869.05M1025.15 850.76V869.3M1093.55 850.76V774.63M1100.75 850.76V776.38M1104.35 850.76V778.14M1107.95 850.76V783.4M1111.55 850.76V786.9M1115.15 850.76V792.16M1118.75 850.76V796.42M1122.35 850.76V803.18M1125.95 850.76V806.44M1147.55 850.76V786.9M1151.15 850.76V787.65M1187.15 850.76V740.07M1190.75 850.76V745.08M1194.35 850.76V750.09M1197.95 850.76V759.35M1201.55 850.76V769.37M1205.15 850.76V778.14M1208.75 850.76V785.15M1212.35 850.76V786.9M1230.35 850.76V774.38M1233.95 850.76V777.13M1237.55 850.76V782.64M1241.15 850.76V788.91M1244.75 850.76V798.92M1248.35 850.76V811.45M1251.95 850.76V818.46M1255.55 850.76V828.47M1259.15 850.76V835.74" stroke="#ff0000" stroke-width="1.9" fill="none"/>
<path d="M24.35 850.76V851.36M27.95 850.76V851.36M31.55 850.76V848.26M35.15 850.76V844.5M38.75 850.76V843.75M56.75 850.76V847.26M60.35 850.76V844M63.95 850.76V837.49M67.55 850.76V828.47M71.15 850.76V820.46M74.75 850.76V814.95M78.35 850.76V811.19M81.95 850.76V811.19M89.15 850.76V811.19M92.75 850.76V808.19M96.35 850.76V805.43M99.95 850.76V803.43M103.55 850.76V802.43M171.95 850.76V886.58M179.15 850.76V887.58M189.95 850.76V888.08M193.55 850.76V885.32M197.15 850.76V884.07M200.75 850.76V882.57M204.35 850.76V880.82M207.95 850.76V879.31M211.55 850.76V877.81M215.15 850.76V876.81M254.75 850.76V919.88M258.35 850.76V917.88M261.95 850.76V912.87M265.55 850.76V906.61M269.15 850.76V899.35M272.75 850.76V891.59M276.35 850.76V884.07M279.95 850.76V877.81M283.55 850.76V872.3M287.15 850.76V867.29M290.75 850.76V862.78M294.35 850.76V855.27M297.95 850.76V851.77M301.55 850.76V848.26M305.15 850.76V845.5M308.75 850.76V842.25M312.35 850.76V837.24M315.95 850.76V832.23M319.55 850.76V826.72M323.15 850.76V821.46M326.75 850.76V819.96M330.35 850.76V819.46M333.95 850.76V818.21M337.55 850.76V817.71M341.15 850.76V816.95M344.75 850.76V814.2M348.35 850.76V811.45M351.95 850.76V808.19M355.55 850.76V806.19M359.15 850.76V805.18M420.35 850.76V861.28M423.95 850.76V858.53M427.55 850.76V857.78M431.15 850.76V857.02M434.75 850.76V851.77M438.35 850.76V844.75M441.95 850.76V838.99M445.55 850.76V834.49M449.15 850.76V829.73M452.75 850.76V827.22M492.35 850.76V858.53M495.95 850.76V858.28M499.55 850.76V856.52M503.15 850.76V853.52M506.75 850.76V851.77M510.35 850.76V851.36M513.95 850.76V850.16M517.55 850.76V849.76M553.55 850.76V889.08M557.15 850.76V883.57M560.75 850.76V874.81M564.35 850.76V865.79M567.95 850.76V855.77M571.55 850.76V852.27M575.15 850.76V851.36M578.75 850.76V848.26M582.35 850.76V844.75M585.95 850.76V842.25M589.55 850.76V838.49M593.15 850.76V838.24M596.75 850.76V835.99M600.35 850.76V827.72M603.95 850.76V820.71M607.55 850.76V812.2M611.15 850.76V803.43M614.75 850.76V800.18M675.95 850.76V847.76M679.55 850.76V843.25M683.15 850.76V837.74M686.75 850.76V834.74M690.35 850.76V831.48M693.95 850.76V829.48M711.95 850.76V829.48M715.55 850.76V822.21M719.15 850.76V815.2M722.75 850.76V803.43M726.35 850.76V790.16M729.95 850.76V783.4M733.55 850.76V776.38M737.15 850.76V768.12M740.75 850.76V765.61M769.55 850.76V785.9M773.15 850.76V785.65M819.95 850.76V834.23M823.55 850.76V834.23M845.15 850.76V839.49M848.75 850.76V835.99M852.35 850.76V831.48M855.95 850.76V826.97M859.55 850.76V825.97M884.75 850.76V851.36M888.35 850.76V850.16M891.95 850.76V847.76M895.55 850.76V844.75M899.15 850.76V844M909.95 850.76V844.75M913.55 850.76V842.25M917.15 850.76V838.49M920.75 850.76V831.48M924.35 850.76V821.96M927.95 850.76V812.7M931.55 850.76V808.94M935.15 850.76V804.68M938.75 850.76V801.68M960.35 850.76V808.19M963.95 850.76V805.68M967.55 850.76V802.68M971.15 850.76V800.18M974.75 850.76V797.17M1028.75 850.76V865.29M1032.35 850.76V863.29M1035.95 850.76V858.28M1039.55 850.76V852.77M1043.15 850.76V843.25M1046.75 850.76V832.73M1050.35 850.76V823.22M1053.95 850.76V811.95M1057.55 850.76V800.18M1061.15 850.76V793.91M1064.75 850.76V789.41M1068.35 850.76V782.14M1071.95 850.76V777.64M1075.55 850.76V777.64M1079.15 850.76V776.38M1082.75 850.76V773.88M1086.35 850.76V773.13M1089.95 850.76V773.13M1097.15 850.76V773.88M1129.55 850.76V802.18M1133.15 850.76V798.92M1136.75 850.76V792.66M1140.35 850.76V786.4M1143.95 850.76V784.4M1154.75 850.76V786.9M1158.35 850.76V778.39M1161.95 850.76V770.62M1165.55 850.76V762.61M1169.15 850.76V752.09M1172.75 850.76V743.08M1176.35 850.76V743.08M1179.95 850.76V741.32M1183.55 850.76V739.57M1215.95 850.76V784.65M1219.55 850.76V780.14M1223.15 850.76V774.38M1226.75 850.76V771.37M1262.75 850.76V835.24M1266.35 850.76V823.97M1269.95 850.76V816.95M1273.55 850.76V808.19M1277.15 850.76V800.18M1280.75 850.76V795.17M1284.35 850.76V791.91" stroke="#008000" stroke-width="1.9" fill="none"/>
<path d="M6.35 1050.06V1060.82M9.95 1050.06V1066.32M17.15 1050.06V1068.07M38.75 1050.06V1035.05M42.35 1050.06V1043.31M45.95 1050.06V1049.46M49.55 1050.06V1055.56M53.15 1050.06V1056.56M74.75 1050.06V996.28M78.35 1050.06V1008.04M81.95 1050.06V1026.3M85.55 1050.06V1043.06M89.15 1050.06V1045.06M103.55 1050.06V1035.05M107.15 1050.06V1044.06M110.75 1050.06V1058.31M114.35 1050.06V1062.57M117.95 1050.06V1072.57M121.55 1050.06V1079.57M125.15 1050.06V1086.33M128.75 1050.06V1087.08M132.35 1050.06V1087.58M150.35 1050.06V1078.07M153.95 1050.06V1100.59M157.55 1050.06V1115.09M161.15 1050.06V1123.85M186.35 1050.06V1051.56M215.15 1050.06V1040.81M218.75 1050.06V1051.81M222.35 1050.06V1074.32M225.95 1050.06V1094.33M229.55 1050.06V1105.09M236.75 1050.06V1106.59M279.95 1050.06V998.28M283.55 1050.06V1003.04M287.15 1050.06V1007.54M290.75 1050.06V1010.04M297.95 1050.06V1010.04M301.55 1050.06V1018.04M305.15 1050.06V1025.05M308.75 1050.06V1025.05M326.75 1050.06V1018.79M330.35 1050.06V1031.8M333.95 1050.06V1038.8M337.55 1050.06V1043.31M341.15 1050.06V1044.31M355.55 1050.06V1032.55M359.15 1050.06V1035.05M362.75 1050.06V1050.66M366.35 1050.06V1056.81M369.95 1050.06V1063.07M377.15 1050.06V1068.07M384.35 1050.06V1065.07M387.95 1050.06V1075.07M391.55 1050.06V1083.83M395.15 1050.06V1089.33M398.75 1050.06V1101.84M402.35 1050.06V1104.34M449.15 1050.06V1010.79M452.75 1050.06V1020.05M456.35 1050.06V1038.8M459.95 1050.06V1055.06M463.55 1050.06V1072.07M467.15 1050.06V1085.08M470.75 1050.06V1093.08M510.35 1050.06V1034.3M513.95 1050.06V1038.05M517.55 1050.06V1043.31M521.15 1050.06V1054.31M524.75 1050.06V1060.57M528.35 1050.06V1063.07M531.95 1050.06V1066.32M535.55 1050.06V1080.08M539.15 1050.06V1086.83M542.75 1050.06V1094.58M546.35 1050.06V1103.34M571.55 1050.06V997.53M575.15 1050.06V1012.54M578.75 1050.06V1023.8M582.35 1050.06V1028.8M593.15 1050.06V1034.3M596.75 1050.06V1034.3M614.75 1050.06V1000.04M618.35 1050.06V1031.8M621.95 1050.06V1055.06M625.55 1050.06V1069.32M629.15 1050.06V1080.08M632.75 1050.06V1081.83M654.35 1050.06V1060.82M657.95 1050.06V1065.07M661.55 1050.06V1073.82M665.15 1050.06V1080.08M693.95 1050.06V1028.05M697.55 1050.06V1040.06M701.15 1050.06V1051.31M704.75 1050.06V1059.56M729.95 1050.06V976.77M733.55 1050.06V985.03M737.15 1050.06V991.28M740.75 1050.06V1008.04M744.35 1050.06V1030.05M747.95 1050.06V1050.66M751.55 1050.06V1073.07M755.15 1050.06V1081.83M783.95 1050.06V1055.81M787.55 1050.06V1061.82M791.15 1050.06V1071.32M794.75 1050.06V1083.83M798.35 1050.06V1100.84M801.95 1050.06V1108.09M827.15 1050.06V1055.06M830.75 1050.06V1060.07M834.35 1050.06V1060.57M837.95 1050.06V1068.32M859.55 1050.06V1028.05M863.15 1050.06V1046.31M866.75 1050.06V1062.07M870.35 1050.06V1076.32M873.95 1050.06V1086.33M877.55 1050.06V1091.83M899.15 1050.06V1035.8M902.75 1050.06V1045.06M906.35 1050.06V1051.31M931.55 1050.06V1000.04M935.15 1050.06V1005.54M938.75 1050.06V1019.29M942.35 1050.06V1038.05M945.95 1050.06V1055.06M949.55 1050.06V1060.82M953.15 1050.06V1065.82M974.75 1050.06V1029.3M978.35 1050.06V1044.31M981.95 1050.06V1059.56M985.55 1050.06V1065.07M989.15 1050.06V1082.08M992.75 1050.06V1105.09M996.35 1050.06V1129.6M999.95 1050.06V1131.35M1003.55 1050.06V1133.1M1064.75 1050.06V979.52M1068.35 1050.06V995.78M1071.95 1050.06V1000.04M1075.55 1050.06V1008.04M1079.15 1050.06V1025.05M1082.75 1050.06V1036.3M1089.95 1050.06V1038.8M1093.55 1050.06V1048.81M1097.15 1050.06V1050.81M1100.75 1050.06V1058.06M1104.35 1050.06V1062.07M1107.95 1050.06V1073.07M1111.55 1050.06V1076.82M1115.15 1050.06V1083.83M1122.35 1050.06V1089.58M1143.95 1050.06V1016.29M1147.55 1050.06V1040.56M1151.15 1050.06V1050.81M1154.75 1050.06V1051.31M1176.35 1050.06V1008.04M1179.95 1050.06V1022.55M1183.55 1050.06V1032.55M1187.15 1050.06V1045.06M1190.75 1050.06V1062.07M1194.35 1050.06V1074.57M1197.95 1050.06V1096.33M1201.55 1050.06V1111.84M1205.15 1050.06V1115.84M1230.35 1050.06V1042.56M1233.95 1050.06V1057.06M1237.55 1050.06V1074.57M1241.15 1050.06V1086.83M1244.75 1050.06V1103.84M1248.35 1050.06V1122.6M1255.55 1050.06V1120.6M1280.75 1050.06V997.03M1284.35 1050.06V1008.04" stroke="#ff0000" stroke-width="1.9" fill="none"/>
<path d="M2.75 1050.06V1058.31M13.55 1050.06V1066.32M20.75 1050.06V1062.57M24.35 1050.06V1056.31M27.95 1050.06V1050.81M31.55 1050.06V1042.56M35.15 1050.06V1031.8M56.75 1050.06V1052.56M60.35 1050.06V1042.06M63.95 1050.06V1024.05M67.55 1050.06V1003.79M71.15 1050.06V994.03M92.75 1050.06V1038.8M96.35 1050.06V1034.3M99.95 1050.06V1031.8M135.95 1050.06V1078.07M139.55 1050.06V1069.57M143.15 1050.06V1065.82M146.75 1050.06V1062.57M164.75 1050.06V1116.34M168.35 1050.06V1095.83M171.95 1050.06V1071.82M175.55 1050.06V1060.82M179.15 1050.06V1051.81M182.75 1050.06V1050.66M189.95 1050.06V1049.46M193.55 1050.06V1043.31M197.15 1050.06V1040.81M200.75 1050.06V1039.55M204.35 1050.06V1038.05M207.95 1050.06V1037.05M211.55 1050.06V1036.05M233.15 1050.06V1104.34M240.35 1050.06V1092.58M243.95 1050.06V1075.57M247.55 1050.06V1062.57M251.15 1050.06V1060.07M254.75 1050.06V1045.06M258.35 1050.06V1038.05M261.95 1050.06V1024.3M265.55 1050.06V1014.54M269.15 1050.06V1004.04M272.75 1050.06V996.53M276.35 1050.06V995.53M294.35 1050.06V1004.54M312.35 1050.06V1020.8M315.95 1050.06V1016.29M319.55 1050.06V1012.54M323.15 1050.06V1011.29M344.75 1050.06V1038.05M348.35 1050.06V1033.3M351.95 1050.06V1029.05M373.55 1050.06V1062.57M380.75 1050.06V1063.82M405.95 1050.06V1102.59M409.55 1050.06V1087.58M413.15 1050.06V1071.32M416.75 1050.06V1060.07M420.35 1050.06V1053.06M423.95 1050.06V1042.56M427.55 1050.06V1042.56M431.15 1050.06V1041.31M434.75 1050.06V1028.05M438.35 1050.06V1014.54M441.95 1050.06V1008.79M445.55 1050.06V1006.29M474.35 1050.06V1092.58M477.95 1050.06V1086.33M481.55 1050.06V1075.07M485.15 1050.06V1065.07M488.75 1050.06V1057.06M492.35 1050.06V1050.66M495.95 1050.06V1049.31M499.55 1050.06V1044.31M503.15 1050.06V1036.3M506.75 1050.06V1034.3M549.95 1050.06V1102.59M553.55 1050.06V1075.57M557.15 1050.06V1042.56M560.75 1050.06V1013.04M564.35 1050.06V994.03M567.95 1050.06V983.03M585.95 1050.06V1028.8M589.55 1050.06V1026.3M600.35 1050.06V1017.04M603.95 1050.06V1006.29M607.55 1050.06V994.53M611.15 1050.06V988.28M636.35 1050.06V1076.82M639.95 1050.06V1074.32M643.55 1050.06V1072.07M647.15 1050.06V1063.07M650.75 1050.06V1057.06M668.75 1050.06V1078.82M672.35 1050.06V1075.57M675.95 1050.06V1062.07M679.55 1050.06V1040.81M683.15 1050.06V1025.05M686.75 1050.06V1021.8M690.35 1050.06V1021.8M708.35 1050.06V1059.56M711.95 1050.06V1040.06M715.55 1050.06V1020.8M719.15 1050.06V1005.54M722.75 1050.06V983.03M726.35 1050.06V968.02M758.75 1050.06V1076.82M762.35 1050.06V1071.82M765.95 1050.06V1067.57M769.55 1050.06V1058.81M773.15 1050.06V1053.06M776.75 1050.06V1050.81M780.35 1050.06V1050.81M805.55 1050.06V1102.59M809.15 1050.06V1090.83M812.75 1050.06V1083.33M816.35 1050.06V1075.82M819.95 1050.06V1062.07M823.55 1050.06V1055.06M841.55 1050.06V1062.07M845.15 1050.06V1048.81M848.75 1050.06V1034.55M852.35 1050.06V1023.8M855.95 1050.06V1018.04M881.15 1050.06V1083.83M884.75 1050.06V1068.32M888.35 1050.06V1051.31M891.95 1050.06V1040.06M895.55 1050.06V1032.55M909.95 1050.06V1050.81M913.55 1050.06V1040.56M917.15 1050.06V1031.8M920.75 1050.06V1016.29M924.35 1050.06V998.28M927.95 1050.06V987.78M956.75 1050.06V1061.32M960.35 1050.06V1050.66M963.95 1050.06V1038.05M967.55 1050.06V1033.3M971.15 1050.06V1028.05M1007.15 1050.06V1117.59M1010.75 1050.06V1098.08M1014.35 1050.06V1075.57M1017.95 1050.06V1063.07M1021.55 1050.06V1058.06M1025.15 1050.06V1055.06M1028.75 1050.06V1053.81M1032.35 1050.06V1040.56M1035.95 1050.06V1033.05M1039.55 1050.06V1024.3M1043.15 1050.06V1016.29M1046.75 1050.06V995.78M1050.35 1050.06V982.03M1053.95 1050.06V979.52M1057.55 1050.06V971.77M1061.15 1050.06V968.02M1086.35 1050.06V1035.05M1118.75 1050.06V1083.83M1125.95 1050.06V1082.58M1129.55 1050.06V1059.56M1133.15 1050.06V1040.06M1136.75 1050.06V1019.54M1140.35 1050.06V1008.04M1158.35 1050.06V1025.05M1161.95 1050.06V1006.29M1165.55 1050.06V994.53M1169.15 1050.06V983.03M1172.75 1050.06V983.03M1208.75 1050.06V1113.84M1212.35 1050.06V1093.83M1215.95 1050.06V1063.82M1219.55 1050.06V1037.05M1223.15 1050.06V1020.05M1226.75 1050.06V1018.04M1251.95 1050.06V1118.84M1259.15 1050.06V1114.34M1262.75 1050.06V1083.83M1266.35 1050.06V1033.3M1269.95 1050.06V1007.54M1273.55 1050.06V990.78M1277.15 1050.06V990.03" stroke="#008000" stroke-width="1.9" fill="none"/>
<g id="clock" font-weight="bold" font-style="italic" fill="url(#cg)">
<text x="1564.2" y="1092.8" font-family="'Liberation Sans',sans-serif" font-size="42" textLength="173.5" lengthAdjust="spacingAndGlyphs">15:17:47</text>
<text x="1479.6" y="1127" font-family="'Liberation Sans','Noto Sans CJK SC',sans-serif" font-size="33" textLength="255" lengthAdjust="spacingAndGlyphs">2025年10月6日</text>
</g>
<text x="1234" y="1103.5" font-family="'Liberation Sans',sans-serif" font-size="24" fill="#3a3a3a" opacity="0.45" textLength="470" lengthAdjust="spacing">www.wolfinance.com</text></svg>
</body></html>
